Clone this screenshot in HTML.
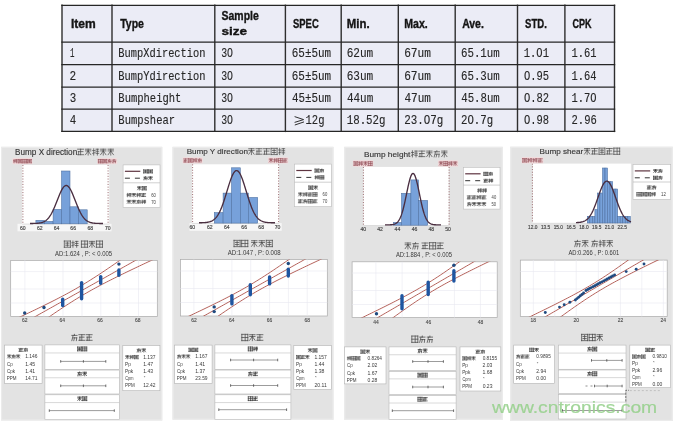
<!DOCTYPE html>
<html><head><meta charset="utf-8"><style>
html,body{margin:0;padding:0;background:#fff;width:676px;height:423px;overflow:hidden;}
svg{display:block;filter:blur(0.45px);}
</style></head><body>
<svg width="676" height="423" viewBox="0 0 676 423">
<rect width="676" height="423" fill="#fff"/>
<rect x="62" y="5.3" width="552.5" height="126.10000000000001" fill="#ebecf6"/>
<line x1="62" y1="4.6" x2="62" y2="132.1" stroke="#2e2e2e" stroke-width="1.4"/>
<line x1="112" y1="4.6" x2="112" y2="132.1" stroke="#2e2e2e" stroke-width="1.4"/>
<line x1="214.8" y1="4.6" x2="214.8" y2="132.1" stroke="#2e2e2e" stroke-width="1.4"/>
<line x1="285.4" y1="4.6" x2="285.4" y2="132.1" stroke="#2e2e2e" stroke-width="1.4"/>
<line x1="341.2" y1="4.6" x2="341.2" y2="132.1" stroke="#2e2e2e" stroke-width="1.4"/>
<line x1="398.3" y1="4.6" x2="398.3" y2="132.1" stroke="#2e2e2e" stroke-width="1.4"/>
<line x1="455.2" y1="4.6" x2="455.2" y2="132.1" stroke="#2e2e2e" stroke-width="1.4"/>
<line x1="517.5" y1="4.6" x2="517.5" y2="132.1" stroke="#2e2e2e" stroke-width="1.4"/>
<line x1="564.9" y1="4.6" x2="564.9" y2="132.1" stroke="#2e2e2e" stroke-width="1.4"/>
<line x1="614.5" y1="4.6" x2="614.5" y2="132.1" stroke="#2e2e2e" stroke-width="1.4"/>
<line x1="61.3" y1="5.3" x2="615.2" y2="5.3" stroke="#262626" stroke-width="1.25"/>
<line x1="61.3" y1="42.1" x2="615.2" y2="42.1" stroke="#262626" stroke-width="1.25"/>
<line x1="61.3" y1="64.5" x2="615.2" y2="64.5" stroke="#262626" stroke-width="1.25"/>
<line x1="61.3" y1="87" x2="615.2" y2="87" stroke="#262626" stroke-width="1.25"/>
<line x1="61.3" y1="109" x2="615.2" y2="109" stroke="#262626" stroke-width="1.25"/>
<line x1="61.3" y1="131.4" x2="615.2" y2="131.4" stroke="#262626" stroke-width="1.25"/>
<text transform="translate(70.92 27.90) scale(0.977 1)" font-size="12.35" font-family="Liberation Sans" font-weight="bold" fill="#141414" stroke="#141414" stroke-width="0.35">Item</text>
<text transform="translate(120.19 27.90) scale(0.872 1)" font-size="12.06" font-family="Liberation Sans" font-weight="bold" fill="#141414" stroke="#141414" stroke-width="0.35">Type</text>
<text transform="translate(293.02 27.70) scale(0.793 1)" font-size="11.92" font-family="Liberation Sans" font-weight="bold" fill="#141414" stroke="#141414" stroke-width="0.35">SPEC</text>
<text transform="translate(346.76 27.70) scale(0.958 1)" font-size="11.92" font-family="Liberation Sans" font-weight="bold" fill="#141414" stroke="#141414" stroke-width="0.35">Min.</text>
<text transform="translate(404.21 27.70) scale(0.887 1)" font-size="11.92" font-family="Liberation Sans" font-weight="bold" fill="#141414" stroke="#141414" stroke-width="0.35">Max.</text>
<text transform="translate(462.14 27.70) scale(0.877 1)" font-size="11.92" font-family="Liberation Sans" font-weight="bold" fill="#141414" stroke="#141414" stroke-width="0.35">Ave.</text>
<text transform="translate(525.11 27.70) scale(0.801 1)" font-size="11.92" font-family="Liberation Sans" font-weight="bold" fill="#141414" stroke="#141414" stroke-width="0.35">STD.</text>
<text transform="translate(572.44 27.70) scale(0.758 1)" font-size="11.92" font-family="Liberation Sans" font-weight="bold" fill="#141414" stroke="#141414" stroke-width="0.35">CPK</text>
<text transform="translate(221.59 19.50) scale(0.867 1)" font-size="12.06" font-family="Liberation Sans" font-weight="bold" fill="#141414" stroke="#141414" stroke-width="0.35">Sample</text>
<text transform="translate(221.43 34.60) scale(1.167 1)" font-size="11.63" font-family="Liberation Sans" font-weight="bold" fill="#141414" stroke="#141414" stroke-width="0.35">size</text>
<text transform="translate(69.88 57.00) scale(0.619 1)" font-size="12.12" font-family="Liberation Mono" font-weight="normal" fill="#262626" stroke="#262626" stroke-width="0.12">1</text>
<text transform="translate(118.37 57.00) scale(0.857 1)" font-size="12.12" font-family="Liberation Mono" font-weight="normal" fill="#262626" stroke="#262626" stroke-width="0.12">BumpXdirection</text>
<text transform="translate(221.16 57.00) scale(0.814 1)" font-size="12.12" font-family="Liberation Mono" font-weight="normal" fill="#262626" stroke="#262626" stroke-width="0.12">3O</text>
<text transform="translate(291.78 57.00) scale(0.902 1)" font-size="12.12" font-family="Liberation Mono" font-weight="normal" fill="#262626" stroke="#262626" stroke-width="0.12">65±5um</text>
<text transform="translate(346.67 57.00) scale(0.914 1)" font-size="12.12" font-family="Liberation Mono" font-weight="normal" fill="#262626" stroke="#262626" stroke-width="0.12">62um</text>
<text transform="translate(404.16 57.00) scale(0.921 1)" font-size="12.12" font-family="Liberation Mono" font-weight="normal" fill="#262626" stroke="#262626" stroke-width="0.12">67um</text>
<text transform="translate(460.99 57.00) scale(0.888 1)" font-size="12.12" font-family="Liberation Mono" font-weight="normal" fill="#262626" stroke="#262626" stroke-width="0.12">65.1um</text>
<text transform="translate(523.77 57.00) scale(0.865 1)" font-size="12.12" font-family="Liberation Mono" font-weight="normal" fill="#262626" stroke="#262626" stroke-width="0.12">1.O1</text>
<text transform="translate(571.57 57.00) scale(0.861 1)" font-size="12.12" font-family="Liberation Mono" font-weight="normal" fill="#262626" stroke="#262626" stroke-width="0.12">1.61</text>
<text transform="translate(69.62 79.90) scale(0.915 1)" font-size="12.12" font-family="Liberation Mono" font-weight="normal" fill="#262626" stroke="#262626" stroke-width="0.12">2</text>
<text transform="translate(118.37 79.90) scale(0.857 1)" font-size="12.12" font-family="Liberation Mono" font-weight="normal" fill="#262626" stroke="#262626" stroke-width="0.12">BumpYdirection</text>
<text transform="translate(221.16 79.90) scale(0.814 1)" font-size="12.12" font-family="Liberation Mono" font-weight="normal" fill="#262626" stroke="#262626" stroke-width="0.12">3O</text>
<text transform="translate(291.78 79.90) scale(0.902 1)" font-size="12.12" font-family="Liberation Mono" font-weight="normal" fill="#262626" stroke="#262626" stroke-width="0.12">65±5um</text>
<text transform="translate(346.67 79.90) scale(0.914 1)" font-size="12.12" font-family="Liberation Mono" font-weight="normal" fill="#262626" stroke="#262626" stroke-width="0.12">63um</text>
<text transform="translate(404.16 79.90) scale(0.921 1)" font-size="12.12" font-family="Liberation Mono" font-weight="normal" fill="#262626" stroke="#262626" stroke-width="0.12">67um</text>
<text transform="translate(460.99 79.90) scale(0.888 1)" font-size="12.12" font-family="Liberation Mono" font-weight="normal" fill="#262626" stroke="#262626" stroke-width="0.12">65.3um</text>
<text transform="translate(523.98 79.90) scale(0.863 1)" font-size="12.12" font-family="Liberation Mono" font-weight="normal" fill="#262626" stroke="#262626" stroke-width="0.12">O.95</text>
<text transform="translate(571.57 79.90) scale(0.861 1)" font-size="12.12" font-family="Liberation Mono" font-weight="normal" fill="#262626" stroke="#262626" stroke-width="0.12">1.64</text>
<text transform="translate(69.69 102.40) scale(0.895 1)" font-size="12.12" font-family="Liberation Mono" font-weight="normal" fill="#262626" stroke="#262626" stroke-width="0.12">3</text>
<text transform="translate(118.36 102.40) scale(0.867 1)" font-size="12.12" font-family="Liberation Mono" font-weight="normal" fill="#262626" stroke="#262626" stroke-width="0.12">Bumpheight</text>
<text transform="translate(221.16 102.40) scale(0.814 1)" font-size="12.12" font-family="Liberation Mono" font-weight="normal" fill="#262626" stroke="#262626" stroke-width="0.12">3O</text>
<text transform="translate(292.06 102.40) scale(0.896 1)" font-size="12.12" font-family="Liberation Mono" font-weight="normal" fill="#262626" stroke="#262626" stroke-width="0.12">45±5um</text>
<text transform="translate(346.95 102.40) scale(0.904 1)" font-size="12.12" font-family="Liberation Mono" font-weight="normal" fill="#262626" stroke="#262626" stroke-width="0.12">44um</text>
<text transform="translate(404.45 102.40) scale(0.911 1)" font-size="12.12" font-family="Liberation Mono" font-weight="normal" fill="#262626" stroke="#262626" stroke-width="0.12">47um</text>
<text transform="translate(461.27 102.40) scale(0.882 1)" font-size="12.12" font-family="Liberation Mono" font-weight="normal" fill="#262626" stroke="#262626" stroke-width="0.12">45.8um</text>
<text transform="translate(523.98 102.40) scale(0.865 1)" font-size="12.12" font-family="Liberation Mono" font-weight="normal" fill="#262626" stroke="#262626" stroke-width="0.12">O.82</text>
<text transform="translate(571.57 102.40) scale(0.861 1)" font-size="12.12" font-family="Liberation Mono" font-weight="normal" fill="#262626" stroke="#262626" stroke-width="0.12">1.7O</text>
<text transform="translate(69.86 124.30) scale(0.891 1)" font-size="12.12" font-family="Liberation Mono" font-weight="normal" fill="#262626" stroke="#262626" stroke-width="0.12">4</text>
<text transform="translate(118.36 124.30) scale(0.868 1)" font-size="12.12" font-family="Liberation Mono" font-weight="normal" fill="#262626" stroke="#262626" stroke-width="0.12">Bumpshear</text>
<text transform="translate(221.16 124.30) scale(0.814 1)" font-size="12.12" font-family="Liberation Mono" font-weight="normal" fill="#262626" stroke="#262626" stroke-width="0.12">3O</text>
<text transform="translate(305.56 124.40) scale(0.868 1)" font-size="12.12" font-family="Liberation Mono" font-weight="normal" fill="#262626" stroke="#262626" stroke-width="0.12">12g</text>
<path d="M294.6 116.6 L303.6 119.6 L294.6 122.4 M294.8 125 L304 121.9" fill="none" stroke="#262626" stroke-width="0.95"/>
<text transform="translate(346.75 124.30) scale(0.888 1)" font-size="12.12" font-family="Liberation Mono" font-weight="normal" fill="#262626" stroke="#262626" stroke-width="0.12">18.52g</text>
<text transform="translate(404.24 124.30) scale(0.896 1)" font-size="12.12" font-family="Liberation Mono" font-weight="normal" fill="#262626" stroke="#262626" stroke-width="0.12">23.O7g</text>
<text transform="translate(461.05 124.30) scale(0.882 1)" font-size="12.12" font-family="Liberation Mono" font-weight="normal" fill="#262626" stroke="#262626" stroke-width="0.12">2O.7g</text>
<text transform="translate(523.98 124.30) scale(0.863 1)" font-size="12.12" font-family="Liberation Mono" font-weight="normal" fill="#262626" stroke="#262626" stroke-width="0.12">O.98</text>
<text transform="translate(571.56 124.30) scale(0.867 1)" font-size="12.12" font-family="Liberation Mono" font-weight="normal" fill="#262626" stroke="#262626" stroke-width="0.12">2.96</text>
<rect x="1" y="146.8" width="161.3" height="273.7" fill="#e3e3e3"/>
<rect x="1.6" y="147.4" width="160.10000000000002" height="272.5" fill="none" stroke="#ececec" stroke-width="1.1"/>
<rect x="172.5" y="146.8" width="161.0" height="273.0" fill="#e3e3e3"/>
<rect x="173.1" y="147.4" width="159.8" height="271.8" fill="none" stroke="#ececec" stroke-width="1.1"/>
<rect x="344.2" y="146.8" width="158.60000000000002" height="273.0" fill="#e3e3e3"/>
<rect x="344.8" y="147.4" width="157.40000000000003" height="271.8" fill="none" stroke="#ececec" stroke-width="1.1"/>
<rect x="510.2" y="146.7" width="162.59999999999997" height="274.3" fill="#e3e3e3"/>
<rect x="510.8" y="147.29999999999998" width="161.39999999999998" height="273.1" fill="none" stroke="#ececec" stroke-width="1.1"/>
<rect x="17.5" y="223.8" width="94.0" height="7.5" fill="#f7f7f7"/>
<rect x="22.2" y="165.0" width="87.0" height="59.400000000000006" fill="#fff"/>
<line x1="22.2" y1="224.10000000000002" x2="109.2" y2="224.10000000000002" stroke="#c8c8c8" stroke-width="0.6"/>
<rect x="35.90" y="220.30" width="8.40" height="3.50" fill="#77a1da" stroke="#4d6f9f" stroke-width="0.55"/>
<rect x="44.30" y="221.40" width="8.80" height="2.40" fill="#77a1da" stroke="#4d6f9f" stroke-width="0.55"/>
<rect x="53.10" y="209.40" width="8.40" height="14.40" fill="#77a1da" stroke="#4d6f9f" stroke-width="0.55"/>
<rect x="61.50" y="171.00" width="8.50" height="52.80" fill="#77a1da" stroke="#4d6f9f" stroke-width="0.55"/>
<rect x="70.00" y="206.80" width="8.30" height="17.00" fill="#77a1da" stroke="#4d6f9f" stroke-width="0.55"/>
<rect x="78.30" y="209.80" width="8.90" height="14.00" fill="#77a1da" stroke="#4d6f9f" stroke-width="0.55"/>
<line x1="22.9" y1="165.0" x2="22.9" y2="223.8" stroke="#9a6a6e" stroke-width="0.95" stroke-dasharray="1.1 1.6"/>
<line x1="108.1" y1="165.0" x2="108.1" y2="223.8" stroke="#9a6a6e" stroke-width="0.95" stroke-dasharray="1.1 1.6"/>
<polyline points="30.00,223.49 30.50,223.49 31.00,223.48 31.50,223.48 32.00,223.47 32.50,223.47 33.00,223.46 33.50,223.45 34.00,223.44 34.50,223.42 35.00,223.41 35.50,223.39 36.00,223.36 36.50,223.34 37.00,223.30 37.50,223.26 38.00,223.22 38.50,223.17 39.00,223.11 39.50,223.03 40.00,222.95 40.50,222.86 41.00,222.75 41.50,222.62 42.00,222.48 42.50,222.31 43.00,222.13 43.50,221.92 44.00,221.69 44.50,221.42 45.00,221.13 45.50,220.80 46.00,220.44 46.50,220.04 47.00,219.60 47.50,219.11 48.00,218.58 48.50,218.01 49.00,217.38 49.50,216.71 50.00,215.98 50.50,215.20 51.00,214.37 51.50,213.49 52.00,212.55 52.50,211.57 53.00,210.54 53.50,209.46 54.00,208.34 54.50,207.18 55.00,205.98 55.50,204.76 56.00,203.51 56.50,202.24 57.00,200.96 57.50,199.68 58.00,198.41 58.50,197.15 59.00,195.91 59.50,194.70 60.00,193.53 60.50,192.41 61.00,191.34 61.50,190.34 62.00,189.42 62.50,188.58 63.00,187.83 63.50,187.17 64.00,186.62 64.50,186.17 65.00,185.84 65.50,185.61 66.00,185.51 66.50,185.52 67.00,185.65 67.50,185.89 68.00,186.25 68.50,186.72 69.00,187.30 69.50,187.97 70.00,188.74 70.50,189.60 71.00,190.54 71.50,191.55 72.00,192.63 72.50,193.76 73.00,194.94 73.50,196.15 74.00,197.40 74.50,198.66 75.00,199.94 75.50,201.22 76.00,202.50 76.50,203.76 77.00,205.00 77.50,206.22 78.00,207.41 78.50,208.57 79.00,209.68 79.50,210.75 80.00,211.77 80.50,212.75 81.00,213.67 81.50,214.54 82.00,215.36 82.50,216.13 83.00,216.85 83.50,217.51 84.00,218.12 84.50,218.69 85.00,219.21 85.50,219.69 86.00,220.12 86.50,220.51 87.00,220.87 87.50,221.19 88.00,221.48 88.50,221.74 89.00,221.96 89.50,222.17 90.00,222.35 90.50,222.51 91.00,222.65 91.50,222.77 92.00,222.88 92.50,222.97 93.00,223.05 93.50,223.12 94.00,223.18 94.50,223.23 95.00,223.27 95.50,223.31 96.00,223.34 96.50,223.37 97.00,223.39 97.50,223.41 98.00,223.43 98.50,223.44 99.00,223.45 99.50,223.46 100.00,223.47 100.50,223.47 101.00,223.48 101.50,223.48 102.00,223.49 102.50,223.49 103.00,223.49" fill="none" stroke="#4a2e40" stroke-width="1.35"/>
<text transform="translate(20.04 229.80) scale(1.000 1)" font-size="5.09" font-family="Liberation Sans" font-weight="normal" fill="#444" stroke="#444" stroke-width="0.15">60</text>
<text transform="translate(36.98 229.80) scale(1.000 1)" font-size="5.09" font-family="Liberation Sans" font-weight="normal" fill="#444" stroke="#444" stroke-width="0.15">62</text>
<text transform="translate(53.73 229.80) scale(1.000 1)" font-size="5.09" font-family="Liberation Sans" font-weight="normal" fill="#444" stroke="#444" stroke-width="0.15">64</text>
<text transform="translate(70.35 229.80) scale(1.000 1)" font-size="5.09" font-family="Liberation Sans" font-weight="normal" fill="#444" stroke="#444" stroke-width="0.15">66</text>
<text transform="translate(87.55 229.80) scale(1.000 1)" font-size="5.09" font-family="Liberation Sans" font-weight="normal" fill="#444" stroke="#444" stroke-width="0.15">68</text>
<text transform="translate(105.04 229.80) scale(1.000 1)" font-size="5.09" font-family="Liberation Sans" font-weight="normal" fill="#444" stroke="#444" stroke-width="0.15">70</text>
<text transform="translate(15.05 154.80) scale(0.986 1)" font-size="8.28" font-family="Liberation Sans" font-weight="normal" fill="#383838" stroke="#383838" stroke-width="0.15">Bump X direction</text>
<path d="M77.63 149.19L83.61 149.19 M78.30 151.60L82.94 151.60 M77.63 154.71L83.61 154.71 M80.62 149.19L80.62 154.71 M78.63 151.60L78.63 154.71 M85.50 149.19L90.82 149.19 M88.16 149.19L88.16 155.06 M85.50 150.91L90.82 150.91 M88.16 150.91L85.50 154.71 M88.16 150.91L90.82 154.71 M93.71 148.84L93.71 155.06 M92.71 150.57L95.04 150.57 M96.03 149.19L98.69 149.19 M96.03 151.26L98.69 151.26 M96.03 153.33L98.69 153.33 M97.36 149.19L97.36 155.06 M92.71 153.33L95.04 152.64 M100.58 149.19L105.90 149.19 M103.24 149.19L103.24 155.06 M100.58 150.91L105.90 150.91 M103.24 150.91L100.58 154.71 M103.24 150.91L105.90 154.71 M108.12 149.19L113.44 149.19 M110.78 149.19L110.78 155.06 M108.12 150.91L113.44 150.91 M110.78 150.91L108.12 154.71 M110.78 150.91L113.44 154.71" stroke="#484848" stroke-width="0.7" fill="none" stroke-linecap="square"/>
<rect x="12.3" y="158.10000000000002" width="20.2" height="6.099999999999989" fill="#f2dcdd" rx="1"/>
<path d="M14.12 159.49L14.12 162.81 M13.51 160.41L14.94 160.41 M15.55 159.67L17.20 159.67 M15.55 160.78L17.20 160.78 M15.55 161.89L17.20 161.89 M16.38 159.67L16.38 162.81 M13.51 161.89L14.94 161.52 M18.20 159.49L21.89 159.49 M18.20 159.49L18.20 162.81 M21.89 159.49L21.89 162.81 M18.20 162.81L21.89 162.81 M19.02 160.59L21.07 160.59 M19.02 161.71L21.07 161.71 M20.05 160.04L20.05 162.26 M22.90 159.49L22.90 162.81 M22.90 159.49L24.34 159.49 M22.90 161.15L24.34 161.15 M22.90 162.81L24.34 162.81 M24.95 159.49L26.59 159.49 M24.95 159.49L24.95 162.81 M26.59 159.49L26.59 162.81 M24.95 161.15L26.59 161.15 M24.95 162.81L26.59 162.81 M27.60 159.49L31.29 159.49 M27.60 159.49L27.60 162.81 M31.29 159.49L31.29 162.81 M27.60 162.81L31.29 162.81 M28.42 160.59L30.47 160.59 M28.42 161.71L30.47 161.71 M29.45 160.04L29.45 162.26" stroke="#94505a" stroke-width="0.65" fill="none" stroke-linecap="square"/>
<rect x="97.2" y="158.10000000000002" width="20.0" height="6.099999999999989" fill="#f2dcdd" rx="1"/>
<path d="M98.40 159.49L98.40 162.81 M98.40 159.49L99.82 159.49 M98.40 161.15L99.82 161.15 M98.40 162.81L99.82 162.81 M100.43 159.49L102.05 159.49 M100.43 159.49L100.43 162.81 M102.05 159.49L102.05 162.81 M100.43 161.15L102.05 161.15 M100.43 162.81L102.05 162.81 M103.05 159.49L106.70 159.49 M103.05 159.49L103.05 162.81 M106.70 159.49L106.70 162.81 M103.05 162.81L106.70 162.81 M103.86 160.59L105.89 160.59 M103.86 161.71L105.89 161.71 M104.88 160.04L104.88 162.26 M107.91 160.04L111.14 160.04 M109.53 159.49L109.53 160.04 M108.72 160.04L107.91 162.81 M108.72 161.34L110.94 161.34 M110.94 161.34L110.74 162.81 M109.53 161.34L109.12 162.81 M112.56 160.04L115.80 160.04 M114.18 159.49L114.18 160.04 M113.37 160.04L112.56 162.81 M113.37 161.34L115.59 161.34 M115.59 161.34L115.39 162.81 M114.18 161.34L113.77 162.81" stroke="#94505a" stroke-width="0.65" fill="none" stroke-linecap="square"/>
<rect x="123.1" y="164.9" width="36.900000000000006" height="42.5" fill="#fff" stroke="#bdbdbd" stroke-width="0.6"/>
<line x1="123.1" y1="182.8" x2="160.0" y2="182.8" stroke="#b0b0b0" stroke-width="0.6"/>
<line x1="124.89999999999999" y1="171.3" x2="140.29999999999998" y2="171.3" stroke="#5e3440" stroke-width="1.2"/>
<line x1="124.89999999999999" y1="178.20000000000002" x2="140.29999999999998" y2="178.20000000000002" stroke="#333" stroke-width="1.0" stroke-dasharray="5 5"/>
<path d="M143.62 169.87L147.49 169.87 M143.62 169.87L143.62 172.93 M147.49 169.87L147.49 172.93 M143.62 172.93L147.49 172.93 M144.47 170.89L146.62 170.89 M144.47 171.91L146.62 171.91 M145.55 170.38L145.55 172.42 M148.52 169.87L152.39 169.87 M148.52 169.87L148.52 172.93 M152.39 169.87L152.39 172.93 M148.52 172.93L152.39 172.93 M149.38 170.89L151.53 170.89 M149.38 171.91L151.53 171.91 M150.45 170.38L150.45 172.42" stroke="#333" stroke-width="0.65" fill="none" stroke-linecap="square"/>
<path d="M143.83 177.18L147.27 177.18 M145.55 176.67L145.55 177.18 M144.69 177.18L143.83 179.73 M144.69 178.37L147.06 178.37 M147.06 178.37L146.84 179.73 M145.55 178.37L145.12 179.73 M148.73 176.84L152.17 176.84 M150.45 176.84L150.45 179.73 M148.73 177.69L152.17 177.69 M150.45 177.69L148.73 179.56 M150.45 177.69L152.17 179.56" stroke="#333" stroke-width="0.65" fill="none" stroke-linecap="square"/>
<path d="M137.63 186.77L141.07 186.77 M139.35 186.77L139.35 189.92 M137.63 187.70L141.07 187.70 M139.35 187.70L137.63 189.73 M139.35 187.70L141.07 189.73 M142.31 186.59L146.19 186.59 M142.31 186.59L142.31 189.92 M146.19 186.59L146.19 189.92 M142.31 189.92L146.19 189.92 M143.17 187.70L145.32 187.70 M143.17 188.81L145.32 188.81 M144.25 187.14L144.25 189.36" stroke="#333" stroke-width="0.65" fill="none" stroke-linecap="square"/>
<path d="M127.67 193.39L127.67 196.72 M127.02 194.31L128.55 194.31 M129.21 193.57L130.96 193.57 M129.21 194.68L130.96 194.68 M129.21 195.79L130.96 195.79 M130.08 193.57L130.08 196.72 M127.02 195.79L128.55 195.42 M132.11 193.57L135.61 193.57 M133.86 193.57L133.86 196.72 M132.11 194.50L135.61 194.50 M133.86 194.50L132.11 196.53 M133.86 194.50L135.61 196.53 M137.42 193.39L137.42 196.72 M136.77 194.31L138.30 194.31 M138.96 193.57L140.71 193.57 M138.96 194.68L140.71 194.68 M138.96 195.79L140.71 195.79 M139.83 193.57L139.83 196.72 M136.77 195.79L138.30 195.42 M141.64 193.57L145.58 193.57 M142.08 194.87L145.14 194.87 M141.64 196.53L145.58 196.53 M143.61 193.57L143.61 196.53 M142.30 194.87L142.30 196.53" stroke="#333" stroke-width="0.6" fill="none" stroke-linecap="square"/>
<text transform="translate(151.19 196.90) scale(0.780 1)" font-size="5.38" font-family="Liberation Sans" font-weight="normal" fill="#444" >60</text>
<path d="M127.24 200.37L130.74 200.37 M128.99 200.37L128.99 203.52 M127.24 201.30L130.74 201.30 M128.99 201.30L127.24 203.33 M128.99 201.30L130.74 203.33 M132.11 200.37L135.61 200.37 M133.86 200.37L133.86 203.52 M132.11 201.30L135.61 201.30 M133.86 201.30L132.11 203.33 M133.86 201.30L135.61 203.33 M136.99 200.74L140.49 200.74 M138.74 200.19L138.74 200.74 M137.86 200.74L136.99 203.52 M137.86 202.04L140.27 202.04 M140.27 202.04L140.05 203.52 M138.74 202.04L138.30 203.52 M142.30 200.19L142.30 203.52 M141.64 201.11L143.17 201.11 M143.83 200.37L145.58 200.37 M143.83 201.48L145.58 201.48 M143.83 202.59L145.58 202.59 M144.71 200.37L144.71 203.52 M141.64 202.59L143.17 202.22" stroke="#333" stroke-width="0.6" fill="none" stroke-linecap="square"/>
<text transform="translate(151.19 203.70) scale(0.780 1)" font-size="5.38" font-family="Liberation Sans" font-weight="normal" fill="#444" >70</text>
<rect x="189.5" y="223.1" width="92.19999999999999" height="7.700000000000017" fill="#f7f7f7"/>
<rect x="192.0" y="164.3" width="87.0" height="59.39999999999998" fill="#fff"/>
<line x1="192.0" y1="223.4" x2="279.0" y2="223.4" stroke="#c8c8c8" stroke-width="0.6"/>
<rect x="214.30" y="212.60" width="8.80" height="10.50" fill="#77a1da" stroke="#4d6f9f" stroke-width="0.55"/>
<rect x="223.10" y="193.10" width="8.40" height="30.00" fill="#77a1da" stroke="#4d6f9f" stroke-width="0.55"/>
<rect x="231.50" y="167.80" width="8.80" height="55.30" fill="#77a1da" stroke="#4d6f9f" stroke-width="0.55"/>
<rect x="240.30" y="193.10" width="8.00" height="30.00" fill="#77a1da" stroke="#4d6f9f" stroke-width="0.55"/>
<rect x="248.30" y="197.40" width="9.40" height="25.70" fill="#77a1da" stroke="#4d6f9f" stroke-width="0.55"/>
<line x1="192.6" y1="164.3" x2="192.6" y2="223.1" stroke="#9a6a6e" stroke-width="0.95" stroke-dasharray="1.1 1.6"/>
<line x1="278.6" y1="164.3" x2="278.6" y2="223.1" stroke="#9a6a6e" stroke-width="0.95" stroke-dasharray="1.1 1.6"/>
<polyline points="199.00,222.78 199.50,222.77 200.00,222.76 200.50,222.76 201.00,222.75 201.50,222.73 202.00,222.72 202.50,222.70 203.00,222.69 203.50,222.66 204.00,222.64 204.50,222.61 205.00,222.57 205.50,222.53 206.00,222.48 206.50,222.42 207.00,222.35 207.50,222.27 208.00,222.18 208.50,222.08 209.00,221.96 209.50,221.83 210.00,221.68 210.50,221.50 211.00,221.31 211.50,221.09 212.00,220.84 212.50,220.57 213.00,220.26 213.50,219.91 214.00,219.53 214.50,219.11 215.00,218.65 215.50,218.14 216.00,217.58 216.50,216.97 217.00,216.31 217.50,215.59 218.00,214.81 218.50,213.97 219.00,213.08 219.50,212.12 220.00,211.09 220.50,210.01 221.00,208.86 221.50,207.65 222.00,206.38 222.50,205.05 223.00,203.66 223.50,202.23 224.00,200.74 224.50,199.21 225.00,197.65 225.50,196.05 226.00,194.43 226.50,192.79 227.00,191.14 227.50,189.49 228.00,187.85 228.50,186.23 229.00,184.64 229.50,183.09 230.00,181.59 230.50,180.14 231.00,178.77 231.50,177.47 232.00,176.26 232.50,175.15 233.00,174.14 233.50,173.25 234.00,172.48 234.50,171.83 235.00,171.32 235.50,170.94 236.00,170.70 236.50,170.60 237.00,170.65 237.50,170.83 238.00,171.15 238.50,171.61 239.00,172.21 239.50,172.93 240.00,173.77 240.50,174.73 241.00,175.80 241.50,176.98 242.00,178.24 242.50,179.58 243.00,181.00 243.50,182.48 244.00,184.02 244.50,185.59 245.00,187.20 245.50,188.83 246.00,190.48 246.50,192.13 247.00,193.77 247.50,195.40 248.00,197.01 248.50,198.59 249.00,200.13 249.50,201.64 250.00,203.09 250.50,204.50 251.00,205.85 251.50,207.15 252.00,208.38 252.50,209.56 253.00,210.67 253.50,211.72 254.00,212.70 254.50,213.62 255.00,214.48 255.50,215.28 256.00,216.03 256.50,216.71 257.00,217.34 257.50,217.92 258.00,218.45 258.50,218.93 259.00,219.37 259.50,219.77 260.00,220.12 260.50,220.45 261.00,220.74 261.50,220.99 262.00,221.22 262.50,221.43 263.00,221.61 263.50,221.77 264.00,221.91 264.50,222.04 265.00,222.14 265.50,222.24 266.00,222.32 266.50,222.39 267.00,222.45 267.50,222.51 268.00,222.55 268.50,222.59 269.00,222.62 269.50,222.65 270.00,222.68 270.50,222.70 271.00,222.71 271.50,222.73 272.00,222.74 272.50,222.75 273.00,222.76 273.50,222.77 274.00,222.77 274.50,222.78 275.00,222.78" fill="none" stroke="#4a2e40" stroke-width="1.35"/>
<text transform="translate(189.54 228.90) scale(1.000 1)" font-size="5.09" font-family="Liberation Sans" font-weight="normal" fill="#444" stroke="#444" stroke-width="0.15">60</text>
<text transform="translate(206.98 228.90) scale(1.000 1)" font-size="5.09" font-family="Liberation Sans" font-weight="normal" fill="#444" stroke="#444" stroke-width="0.15">62</text>
<text transform="translate(224.03 228.90) scale(1.000 1)" font-size="5.09" font-family="Liberation Sans" font-weight="normal" fill="#444" stroke="#444" stroke-width="0.15">64</text>
<text transform="translate(241.35 228.90) scale(1.000 1)" font-size="5.09" font-family="Liberation Sans" font-weight="normal" fill="#444" stroke="#444" stroke-width="0.15">66</text>
<text transform="translate(258.35 228.90) scale(1.000 1)" font-size="5.09" font-family="Liberation Sans" font-weight="normal" fill="#444" stroke="#444" stroke-width="0.15">68</text>
<text transform="translate(274.74 228.90) scale(1.000 1)" font-size="5.09" font-family="Liberation Sans" font-weight="normal" fill="#444" stroke="#444" stroke-width="0.15">70</text>
<text transform="translate(186.65 154.30) scale(1.013 1)" font-size="7.99" font-family="Liberation Sans" font-weight="normal" fill="#383838" stroke="#383838" stroke-width="0.15">Bump Y direction</text>
<path d="M248.77 148.69L254.09 148.69 M251.43 148.69L251.43 154.56 M248.77 150.41L254.09 150.41 M251.43 150.41L248.77 154.21 M251.43 150.41L254.09 154.21 M255.99 148.69L261.99 148.69 M256.66 151.10L261.32 151.10 M255.99 154.21L261.99 154.21 M258.99 148.69L258.99 154.21 M256.99 151.10L256.99 154.21 M263.55 148.69L269.55 148.69 M264.22 151.10L268.88 151.10 M263.55 154.21L269.55 154.21 M266.55 148.69L266.55 154.21 M264.55 151.10L264.55 154.21 M271.11 148.34L277.11 148.34 M271.11 148.34L271.11 154.56 M277.11 148.34L277.11 154.56 M271.11 154.56L277.11 154.56 M272.44 150.41L275.77 150.41 M272.44 152.49L275.77 152.49 M274.11 149.38L274.11 153.52 M279.67 148.34L279.67 154.56 M278.67 150.07L281.00 150.07 M282.00 148.69L284.67 148.69 M282.00 150.76L284.67 150.76 M282.00 152.83L284.67 152.83 M283.33 148.69L283.33 154.56 M278.67 152.83L281.00 152.14" stroke="#484848" stroke-width="0.7" fill="none" stroke-linecap="square"/>
<rect x="182.5" y="157.3" width="20.30000000000001" height="6.300000000000006" fill="#f2dcdd" rx="1"/>
<path d="M183.71 158.89L187.42 158.89 M184.12 160.25L187.01 160.25 M183.71 162.01L187.42 162.01 M185.56 158.89L185.56 162.01 M184.32 160.25L184.32 162.01 M188.43 158.69L192.14 158.69 M188.43 158.69L188.43 162.21 M192.14 158.69L192.14 162.21 M188.43 162.21L192.14 162.21 M189.26 159.87L191.32 159.87 M189.26 161.03L191.32 161.03 M190.29 159.28L190.29 161.62 M193.78 158.69L193.78 162.21 M193.16 159.67L194.60 159.67 M195.22 158.89L196.87 158.89 M195.22 160.06L196.87 160.06 M195.22 161.23L196.87 161.23 M196.04 158.89L196.04 162.21 M193.16 161.23L194.60 160.84 M198.09 159.28L201.39 159.28 M199.74 158.69L199.74 159.28 M198.91 159.28L198.09 162.21 M198.91 160.65L201.18 160.65 M201.18 160.65L200.98 162.21 M199.74 160.65L199.33 162.21" stroke="#94505a" stroke-width="0.65" fill="none" stroke-linecap="square"/>
<rect x="267.9" y="157.3" width="20.30000000000001" height="6.300000000000006" fill="#f2dcdd" rx="1"/>
<path d="M269.31 158.89L272.61 158.89 M270.96 158.89L270.96 162.21 M269.31 159.87L272.61 159.87 M270.96 159.87L269.31 162.01 M270.96 159.87L272.61 162.01 M274.45 158.69L274.45 162.21 M273.83 159.67L275.27 159.67 M275.89 158.89L277.54 158.89 M275.89 160.06L277.54 160.06 M275.89 161.23L277.54 161.23 M276.72 158.89L276.72 162.21 M273.83 161.23L275.27 160.84 M278.56 158.69L278.56 162.21 M278.56 158.69L280.00 158.69 M278.56 160.45L280.00 160.45 M278.56 162.21L280.00 162.21 M280.62 158.69L282.27 158.69 M280.62 158.69L280.62 162.21 M282.27 158.69L282.27 162.21 M280.62 160.45L282.27 160.45 M280.62 162.21L282.27 162.21 M283.28 158.89L286.99 158.89 M283.69 160.25L286.58 160.25 M283.28 162.01L286.99 162.01 M285.14 158.89L285.14 162.01 M283.90 160.25L283.90 162.01" stroke="#94505a" stroke-width="0.65" fill="none" stroke-linecap="square"/>
<rect x="294.5" y="164.1" width="36.80000000000001" height="42.599999999999994" fill="#fff" stroke="#bdbdbd" stroke-width="0.6"/>
<line x1="294.5" y1="182.2" x2="331.3" y2="182.2" stroke="#b0b0b0" stroke-width="0.6"/>
<line x1="296.3" y1="170.5" x2="311.7" y2="170.5" stroke="#5e3440" stroke-width="1.2"/>
<line x1="296.3" y1="177.4" x2="311.7" y2="177.4" stroke="#333" stroke-width="1.0" stroke-dasharray="5 5"/>
<path d="M315.01 169.07L318.88 169.07 M315.01 169.07L315.01 172.13 M318.88 169.07L318.88 172.13 M315.01 172.13L318.88 172.13 M315.88 170.09L318.03 170.09 M315.88 171.11L318.03 171.11 M316.95 169.58L316.95 171.62 M320.13 169.58L323.57 169.58 M321.85 169.07L321.85 169.58 M320.99 169.58L320.13 172.13 M320.99 170.77L323.35 170.77 M323.35 170.77L323.14 172.13 M321.85 170.77L321.42 172.13" stroke="#333" stroke-width="0.65" fill="none" stroke-linecap="square"/>
<path d="M315.66 175.87L315.66 178.93 M315.01 176.72L316.52 176.72 M317.17 176.04L318.88 176.04 M317.17 177.06L318.88 177.06 M317.17 178.08L318.88 178.08 M318.03 176.04L318.03 178.93 M315.01 178.08L316.52 177.74 M319.91 175.87L319.91 178.93 M319.91 175.87L321.42 175.87 M319.91 177.40L321.42 177.40 M319.91 178.93L321.42 178.93 M322.06 175.87L323.78 175.87 M322.06 175.87L322.06 178.93 M323.78 175.87L323.78 178.93 M322.06 177.40L323.78 177.40 M322.06 178.93L323.78 178.93" stroke="#333" stroke-width="0.65" fill="none" stroke-linecap="square"/>
<path d="M308.81 185.98L312.69 185.98 M308.81 185.98L308.81 189.31 M312.69 185.98L312.69 189.31 M308.81 189.31L312.69 189.31 M309.68 187.09L311.83 187.09 M309.68 188.20L311.83 188.20 M310.75 186.54L310.75 188.76 M313.93 186.17L317.37 186.17 M315.65 186.17L315.65 189.31 M313.93 187.09L317.37 187.09 M315.65 187.09L313.93 189.13 M315.65 187.09L317.37 189.13" stroke="#333" stroke-width="0.65" fill="none" stroke-linecap="square"/>
<path d="M298.64 192.97L302.14 192.97 M300.39 192.97L300.39 196.11 M298.64 193.89L302.14 193.89 M300.39 193.89L298.64 195.93 M300.39 193.89L302.14 195.93 M303.95 192.78L303.95 196.11 M303.29 193.71L304.82 193.71 M305.48 192.97L307.23 192.97 M305.48 194.08L307.23 194.08 M305.48 195.19L307.23 195.19 M306.36 192.97L306.36 196.11 M303.29 195.19L304.82 194.82 M308.17 192.97L312.11 192.97 M308.61 194.26L311.67 194.26 M308.17 195.93L312.11 195.93 M310.14 192.97L310.14 195.93 M308.82 194.26L308.82 195.93 M313.04 192.78L313.04 196.11 M313.04 192.78L314.57 192.78 M313.04 194.45L314.57 194.45 M313.04 196.11L314.57 196.11 M315.23 192.78L316.98 192.78 M315.23 192.78L315.23 196.11 M316.98 192.78L316.98 196.11 M315.23 194.45L316.98 194.45 M315.23 196.11L316.98 196.11" stroke="#333" stroke-width="0.6" fill="none" stroke-linecap="square"/>
<text transform="translate(322.59 196.30) scale(0.780 1)" font-size="5.38" font-family="Liberation Sans" font-weight="normal" fill="#444" >60</text>
<path d="M298.42 199.77L302.36 199.77 M298.86 201.06L301.92 201.06 M298.42 202.73L302.36 202.73 M300.39 199.77L300.39 202.73 M299.07 201.06L299.07 202.73 M303.51 200.14L307.01 200.14 M305.26 199.59L305.26 200.14 M304.39 200.14L303.51 202.91 M304.39 201.44L306.79 201.44 M306.79 201.44L306.57 202.91 M305.26 201.44L304.82 202.91 M308.17 199.59L308.17 202.91 M308.17 199.59L309.70 199.59 M308.17 201.25L309.70 201.25 M308.17 202.91L309.70 202.91 M310.36 199.59L312.11 199.59 M310.36 199.59L310.36 202.91 M312.11 199.59L312.11 202.91 M310.36 201.25L312.11 201.25 M310.36 202.91L312.11 202.91 M313.04 199.77L316.98 199.77 M313.48 201.06L316.54 201.06 M313.04 202.73L316.98 202.73 M315.01 199.77L315.01 202.73 M313.70 201.06L313.70 202.73" stroke="#333" stroke-width="0.6" fill="none" stroke-linecap="square"/>
<text transform="translate(322.59 203.10) scale(0.780 1)" font-size="5.38" font-family="Liberation Sans" font-weight="normal" fill="#444" >70</text>
<rect x="363.4" y="166.9" width="85.40000000000003" height="58.89999999999998" fill="#fff"/>
<line x1="363.4" y1="225.5" x2="448.8" y2="225.5" stroke="#c8c8c8" stroke-width="0.6"/>
<rect x="393.70" y="222.40" width="7.80" height="2.80" fill="#77a1da" stroke="#4d6f9f" stroke-width="0.55"/>
<rect x="401.50" y="193.30" width="9.40" height="31.90" fill="#77a1da" stroke="#4d6f9f" stroke-width="0.55"/>
<rect x="410.90" y="179.90" width="7.60" height="45.30" fill="#77a1da" stroke="#4d6f9f" stroke-width="0.55"/>
<rect x="418.50" y="200.40" width="9.20" height="24.80" fill="#77a1da" stroke="#4d6f9f" stroke-width="0.55"/>
<line x1="363.4" y1="166.9" x2="363.4" y2="225.2" stroke="#9a6a6e" stroke-width="0.95" stroke-dasharray="1.1 1.6"/>
<line x1="449.1" y1="166.9" x2="449.1" y2="225.2" stroke="#9a6a6e" stroke-width="0.95" stroke-dasharray="1.1 1.6"/>
<polyline points="385.00,224.90 385.50,224.89 386.00,224.89 386.50,224.89 387.00,224.89 387.50,224.88 388.00,224.87 388.50,224.87 389.00,224.85 389.50,224.84 390.00,224.82 390.50,224.79 391.00,224.76 391.50,224.72 392.00,224.66 392.50,224.60 393.00,224.51 393.50,224.40 394.00,224.27 394.50,224.11 395.00,223.91 395.50,223.67 396.00,223.39 396.50,223.04 397.00,222.64 397.50,222.16 398.00,221.60 398.50,220.94 399.00,220.19 399.50,219.33 400.00,218.36 400.50,217.25 401.00,216.02 401.50,214.65 402.00,213.14 402.50,211.49 403.00,209.71 403.50,207.79 404.00,205.74 404.50,203.58 405.00,201.32 405.50,198.98 406.00,196.58 406.50,194.15 407.00,191.71 407.50,189.30 408.00,186.94 408.50,184.68 409.00,182.54 409.50,180.55 410.00,178.76 410.50,177.18 411.00,175.85 411.50,174.80 412.00,174.02 412.50,173.56 413.00,173.40 413.50,173.56 414.00,174.02 414.50,174.80 415.00,175.85 415.50,177.18 416.00,178.76 416.50,180.55 417.00,182.54 417.50,184.68 418.00,186.94 418.50,189.30 419.00,191.71 419.50,194.15 420.00,196.58 420.50,198.98 421.00,201.32 421.50,203.58 422.00,205.74 422.50,207.79 423.00,209.71 423.50,211.49 424.00,213.14 424.50,214.65 425.00,216.02 425.50,217.25 426.00,218.36 426.50,219.33 427.00,220.19 427.50,220.94 428.00,221.60 428.50,222.16 429.00,222.64 429.50,223.04 430.00,223.39 430.50,223.67 431.00,223.91 431.50,224.11 432.00,224.27 432.50,224.40 433.00,224.51 433.50,224.60 434.00,224.66 434.50,224.72 435.00,224.76 435.50,224.79 436.00,224.82 436.50,224.84 437.00,224.85 437.50,224.87 438.00,224.87 438.50,224.88 439.00,224.89 439.50,224.89 440.00,224.89 440.50,224.89 441.00,224.90" fill="none" stroke="#4a2e40" stroke-width="1.35"/>
<text transform="translate(360.41 230.90) scale(1.000 1)" font-size="5.09" font-family="Liberation Sans" font-weight="normal" fill="#444" stroke="#444" stroke-width="0.15">40</text>
<text transform="translate(377.25 230.90) scale(1.000 1)" font-size="5.09" font-family="Liberation Sans" font-weight="normal" fill="#444" stroke="#444" stroke-width="0.15">42</text>
<text transform="translate(394.60 230.90) scale(1.000 1)" font-size="5.09" font-family="Liberation Sans" font-weight="normal" fill="#444" stroke="#444" stroke-width="0.15">44</text>
<text transform="translate(411.63 230.90) scale(1.000 1)" font-size="5.09" font-family="Liberation Sans" font-weight="normal" fill="#444" stroke="#444" stroke-width="0.15">46</text>
<text transform="translate(428.43 230.90) scale(1.000 1)" font-size="5.09" font-family="Liberation Sans" font-weight="normal" fill="#444" stroke="#444" stroke-width="0.15">48</text>
<text transform="translate(445.26 230.90) scale(1.000 1)" font-size="5.09" font-family="Liberation Sans" font-weight="normal" fill="#444" stroke="#444" stroke-width="0.15">50</text>
<text transform="translate(363.94 156.70) scale(1.039 1)" font-size="7.99" font-family="Liberation Sans" font-weight="normal" fill="#383838" stroke="#383838" stroke-width="0.15">Bump height</text>
<path d="M412.42 150.74L412.42 156.95 M411.43 152.47L413.73 152.47 M414.72 151.09L417.35 151.09 M414.72 153.16L417.35 153.16 M414.72 155.23L417.35 155.23 M416.04 151.09L416.04 156.95 M411.43 155.23L413.73 154.54 M418.91 151.09L424.83 151.09 M419.57 153.50L424.17 153.50 M418.91 156.61L424.83 156.61 M421.87 151.09L421.87 156.61 M419.90 153.50L419.90 156.61 M426.72 151.09L431.98 151.09 M429.35 151.09L429.35 156.95 M426.72 152.81L431.98 152.81 M429.35 152.81L426.72 156.61 M429.35 152.81L431.98 156.61 M434.20 151.78L439.46 151.78 M436.83 150.74L436.83 151.78 M435.51 151.78L434.20 156.95 M435.51 154.19L439.13 154.19 M439.13 154.19L438.80 156.95 M436.83 154.19L436.17 156.95 M441.68 151.09L446.94 151.09 M444.31 151.09L444.31 156.95 M441.68 152.81L446.94 152.81 M444.31 152.81L441.68 156.61 M444.31 152.81L446.94 156.61" stroke="#484848" stroke-width="0.7" fill="none" stroke-linecap="square"/>
<rect x="352.8" y="160.3" width="20.5" height="6.499999999999995" fill="#f2dcdd" rx="1"/>
<path d="M354.01 161.71L357.77 161.71 M354.01 161.71L354.01 165.39 M357.77 161.71L357.77 165.39 M354.01 165.39L357.77 165.39 M354.84 162.94L356.93 162.94 M354.84 164.16L356.93 164.16 M355.89 162.32L355.89 164.78 M359.41 161.71L359.41 165.39 M358.78 162.73L360.25 162.73 M360.87 161.91L362.54 161.91 M360.87 163.14L362.54 163.14 M360.87 164.37L362.54 164.37 M361.71 161.91L361.71 165.39 M358.78 164.37L360.25 163.96 M363.77 161.91L367.11 161.91 M365.44 161.91L365.44 165.39 M363.77 162.94L367.11 162.94 M365.44 162.94L363.77 165.19 M365.44 162.94L367.11 165.19 M368.33 161.71L368.33 165.39 M368.33 161.71L369.80 161.71 M368.33 163.55L369.80 163.55 M368.33 165.39L369.80 165.39 M370.42 161.71L372.09 161.71 M370.42 161.71L370.42 165.39 M372.09 161.71L372.09 165.39 M370.42 163.55L372.09 163.55 M370.42 165.39L372.09 165.39" stroke="#94505a" stroke-width="0.65" fill="none" stroke-linecap="square"/>
<rect x="437.9" y="160.3" width="20.30000000000001" height="6.499999999999995" fill="#f2dcdd" rx="1"/>
<path d="M439.31 161.91L442.61 161.91 M440.96 161.91L440.96 165.39 M439.31 162.94L442.61 162.94 M440.96 162.94L439.31 165.19 M440.96 162.94L442.61 165.19 M443.83 161.71L443.83 165.39 M443.83 161.71L445.27 161.71 M443.83 163.55L445.27 163.55 M443.83 165.39L445.27 165.39 M445.89 161.71L447.54 161.71 M445.89 161.71L445.89 165.39 M447.54 161.71L447.54 165.39 M445.89 163.55L447.54 163.55 M445.89 165.39L447.54 165.39 M449.17 161.71L449.17 165.39 M448.56 162.73L450.00 162.73 M450.62 161.91L452.27 161.91 M450.62 163.14L452.27 163.14 M450.62 164.37L452.27 164.37 M451.44 161.91L451.44 165.39 M448.56 164.37L450.00 163.96 M453.49 161.91L456.79 161.91 M455.14 161.91L455.14 165.39 M453.49 162.94L456.79 162.94 M455.14 162.94L453.49 165.19 M455.14 162.94L456.79 165.19" stroke="#94505a" stroke-width="0.65" fill="none" stroke-linecap="square"/>
<rect x="463.4" y="167.4" width="36.60000000000002" height="41.69999999999999" fill="#fff" stroke="#bdbdbd" stroke-width="0.6"/>
<line x1="463.4" y1="185.1" x2="500.0" y2="185.1" stroke="#b0b0b0" stroke-width="0.6"/>
<line x1="465.2" y1="173.8" x2="480.59999999999997" y2="173.8" stroke="#5e3440" stroke-width="1.2"/>
<line x1="465.2" y1="180.70000000000002" x2="480.59999999999997" y2="180.70000000000002" stroke="#333" stroke-width="1.0" stroke-dasharray="5 5"/>
<path d="M483.91 172.37L483.91 175.43 M483.91 172.37L485.42 172.37 M483.91 173.90L485.42 173.90 M483.91 175.43L485.42 175.43 M486.06 172.37L487.78 172.37 M486.06 172.37L486.06 175.43 M487.78 172.37L487.78 175.43 M486.06 173.90L487.78 173.90 M486.06 175.43L487.78 175.43 M489.03 172.88L492.47 172.88 M490.75 172.37L490.75 172.88 M489.89 172.88L489.03 175.43 M489.89 174.07L492.25 174.07 M492.25 174.07L492.04 175.43 M490.75 174.07L490.32 175.43" stroke="#333" stroke-width="0.65" fill="none" stroke-linecap="square"/>
<path d="M483.91 179.34L487.78 179.34 M484.34 180.53L487.35 180.53 M483.91 182.06L487.78 182.06 M485.85 179.34L485.85 182.06 M484.56 180.53L484.56 182.06 M489.46 179.17L489.46 182.23 M488.81 180.02L490.32 180.02 M490.96 179.34L492.68 179.34 M490.96 180.36L492.68 180.36 M490.96 181.38L492.68 181.38 M491.82 179.34L491.82 182.23 M488.81 181.38L490.32 181.04" stroke="#333" stroke-width="0.65" fill="none" stroke-linecap="square"/>
<path d="M478.36 188.88L478.36 192.22 M477.71 189.81L479.22 189.81 M479.87 189.07L481.58 189.07 M479.87 190.18L481.58 190.18 M479.87 191.29L481.58 191.29 M480.73 189.07L480.73 192.22 M477.71 191.29L479.22 190.92 M483.26 188.88L483.26 192.22 M482.61 189.81L484.12 189.81 M484.76 189.07L486.48 189.07 M484.76 190.18L486.48 190.18 M484.76 191.29L486.48 191.29 M485.62 189.07L485.62 192.22 M482.61 191.29L484.12 190.92" stroke="#333" stroke-width="0.65" fill="none" stroke-linecap="square"/>
<path d="M467.32 195.87L471.26 195.87 M467.76 197.16L470.82 197.16 M467.32 198.83L471.26 198.83 M469.29 195.87L469.29 198.83 M467.97 197.16L467.97 198.83 M472.19 195.87L476.13 195.87 M472.63 197.16L475.69 197.16 M472.19 198.83L476.13 198.83 M474.16 195.87L474.16 198.83 M472.85 197.16L472.85 198.83 M477.72 195.69L477.72 199.01 M477.07 196.61L478.60 196.61 M479.26 195.87L481.01 195.87 M479.26 196.98L481.01 196.98 M479.26 198.09L481.01 198.09 M480.13 195.87L480.13 199.01 M477.07 198.09L478.60 197.72 M481.94 195.87L485.88 195.87 M482.38 197.16L485.44 197.16 M481.94 198.83L485.88 198.83 M483.91 195.87L483.91 198.83 M482.60 197.16L482.60 198.83" stroke="#333" stroke-width="0.6" fill="none" stroke-linecap="square"/>
<text transform="translate(491.62 199.20) scale(0.758 1)" font-size="5.38" font-family="Liberation Sans" font-weight="normal" fill="#444" >40</text>
<path d="M467.54 203.04L471.04 203.04 M469.29 202.49L469.29 203.04 M468.41 203.04L467.54 205.81 M468.41 204.34L470.82 204.34 M470.82 204.34L470.60 205.81 M469.29 204.34L468.85 205.81 M472.41 202.67L475.91 202.67 M474.16 202.67L474.16 205.81 M472.41 203.59L475.91 203.59 M474.16 203.59L472.41 205.63 M474.16 203.59L475.91 205.63 M477.29 202.67L480.79 202.67 M479.04 202.67L479.04 205.81 M477.29 203.59L480.79 203.59 M479.04 203.59L477.29 205.63 M479.04 203.59L480.79 205.63 M482.16 202.67L485.66 202.67 M483.91 202.67L483.91 205.81 M482.16 203.59L485.66 203.59 M483.91 203.59L482.16 205.63 M483.91 203.59L485.66 205.63" stroke="#333" stroke-width="0.6" fill="none" stroke-linecap="square"/>
<text transform="translate(491.53 206.00) scale(0.773 1)" font-size="5.38" font-family="Liberation Sans" font-weight="normal" fill="#444" >50</text>
<rect x="532.6" y="163.6" width="98.29999999999995" height="60.0" fill="#fff"/>
<line x1="532.6" y1="223.3" x2="630.9" y2="223.3" stroke="#c8c8c8" stroke-width="0.6"/>
<rect x="587.30" y="216.30" width="2.53" height="6.70" fill="#77a1da" stroke="#4d6f9f" stroke-width="0.55"/>
<rect x="589.83" y="216.30" width="2.53" height="6.70" fill="#77a1da" stroke="#4d6f9f" stroke-width="0.55"/>
<rect x="592.36" y="216.30" width="2.53" height="6.70" fill="#77a1da" stroke="#4d6f9f" stroke-width="0.55"/>
<rect x="594.89" y="209.60" width="2.53" height="13.40" fill="#77a1da" stroke="#4d6f9f" stroke-width="0.55"/>
<rect x="597.42" y="193.00" width="2.53" height="30.00" fill="#77a1da" stroke="#4d6f9f" stroke-width="0.55"/>
<rect x="599.95" y="193.00" width="2.53" height="30.00" fill="#77a1da" stroke="#4d6f9f" stroke-width="0.55"/>
<rect x="602.48" y="168.00" width="2.53" height="55.00" fill="#77a1da" stroke="#4d6f9f" stroke-width="0.55"/>
<rect x="605.01" y="168.00" width="2.53" height="55.00" fill="#77a1da" stroke="#4d6f9f" stroke-width="0.55"/>
<rect x="607.54" y="181.70" width="2.53" height="41.30" fill="#77a1da" stroke="#4d6f9f" stroke-width="0.55"/>
<rect x="610.07" y="181.70" width="2.53" height="41.30" fill="#77a1da" stroke="#4d6f9f" stroke-width="0.55"/>
<rect x="612.60" y="189.00" width="2.53" height="34.00" fill="#77a1da" stroke="#4d6f9f" stroke-width="0.55"/>
<rect x="615.13" y="189.00" width="2.53" height="34.00" fill="#77a1da" stroke="#4d6f9f" stroke-width="0.55"/>
<rect x="617.66" y="216.30" width="2.53" height="6.70" fill="#77a1da" stroke="#4d6f9f" stroke-width="0.55"/>
<rect x="620.19" y="216.30" width="2.53" height="6.70" fill="#77a1da" stroke="#4d6f9f" stroke-width="0.55"/>
<rect x="622.72" y="216.30" width="2.53" height="6.70" fill="#77a1da" stroke="#4d6f9f" stroke-width="0.55"/>
<rect x="625.25" y="216.30" width="2.53" height="6.70" fill="#77a1da" stroke="#4d6f9f" stroke-width="0.55"/>
<rect x="627.78" y="216.30" width="2.53" height="6.70" fill="#77a1da" stroke="#4d6f9f" stroke-width="0.55"/>
<line x1="532.4" y1="163.6" x2="532.4" y2="223.0" stroke="#9a6a6e" stroke-width="0.95" stroke-dasharray="1.1 1.6"/>
<polyline points="576.00,222.61 576.50,222.59 577.00,222.57 577.50,222.54 578.00,222.50 578.50,222.46 579.00,222.42 579.50,222.36 580.00,222.30 580.50,222.22 581.00,222.13 581.50,222.03 582.00,221.92 582.50,221.78 583.00,221.63 583.50,221.45 584.00,221.25 584.50,221.02 585.00,220.77 585.50,220.48 586.00,220.15 586.50,219.79 587.00,219.39 587.50,218.95 588.00,218.45 588.50,217.91 589.00,217.32 589.50,216.68 590.00,215.98 590.50,215.22 591.00,214.40 591.50,213.52 592.00,212.59 592.50,211.59 593.00,210.54 593.50,209.42 594.00,208.26 594.50,207.04 595.00,205.77 595.50,204.46 596.00,203.11 596.50,201.73 597.00,200.32 597.50,198.90 598.00,197.47 598.50,196.04 599.00,194.61 599.50,193.21 600.00,191.84 600.50,190.50 601.00,189.22 601.50,188.00 602.00,186.85 602.50,185.78 603.00,184.80 603.50,183.92 604.00,183.15 604.50,182.50 605.00,181.96 605.50,181.55 606.00,181.27 606.50,181.12 607.00,181.11 607.50,181.23 608.00,181.48 608.50,181.87 609.00,182.38 609.50,183.01 610.00,183.76 610.50,184.62 611.00,185.58 611.50,186.63 612.00,187.76 612.50,188.97 613.00,190.24 613.50,191.57 614.00,192.93 614.50,194.33 615.00,195.75 615.50,197.18 616.00,198.61 616.50,200.04 617.00,201.45 617.50,202.84 618.00,204.19 618.50,205.51 619.00,206.79 619.50,208.02 620.00,209.19 620.50,210.32 621.00,211.38 621.50,212.39 622.00,213.34 622.50,214.23 623.00,215.06 623.50,215.83 624.00,216.54 624.50,217.20 625.00,217.80 625.50,218.35 626.00,218.85 626.50,219.30 627.00,219.72 627.50,220.08 628.00,220.42 628.50,220.71 629.00,220.97 629.50,221.21 630.00,221.41 630.50,221.59 631.00,221.75" fill="none" stroke="#4a2e40" stroke-width="1.35"/>
<text transform="translate(528.12 229.20) scale(0.920 1)" font-size="5.23" font-family="Liberation Sans" font-weight="normal" fill="#444" stroke="#444" stroke-width="0.15">12.0</text>
<text transform="translate(540.90 229.20) scale(0.920 1)" font-size="5.23" font-family="Liberation Sans" font-weight="normal" fill="#444" stroke="#444" stroke-width="0.15">13.5</text>
<text transform="translate(553.66 229.20) scale(0.920 1)" font-size="5.23" font-family="Liberation Sans" font-weight="normal" fill="#444" stroke="#444" stroke-width="0.15">15.0</text>
<text transform="translate(566.44 229.20) scale(0.920 1)" font-size="5.23" font-family="Liberation Sans" font-weight="normal" fill="#444" stroke="#444" stroke-width="0.15">16.5</text>
<text transform="translate(579.20 229.20) scale(0.920 1)" font-size="5.23" font-family="Liberation Sans" font-weight="normal" fill="#444" stroke="#444" stroke-width="0.15">18.0</text>
<text transform="translate(591.98 229.20) scale(0.920 1)" font-size="5.23" font-family="Liberation Sans" font-weight="normal" fill="#444" stroke="#444" stroke-width="0.15">19.5</text>
<text transform="translate(604.80 229.20) scale(0.920 1)" font-size="5.23" font-family="Liberation Sans" font-weight="normal" fill="#444" stroke="#444" stroke-width="0.15">21.0</text>
<text transform="translate(617.58 229.20) scale(0.920 1)" font-size="5.23" font-family="Liberation Sans" font-weight="normal" fill="#444" stroke="#444" stroke-width="0.15">22.5</text>
<text transform="translate(539.55 154.10) scale(1.018 1)" font-size="7.99" font-family="Liberation Sans" font-weight="normal" fill="#383838" stroke="#383838" stroke-width="0.15">Bump shear</text>
<path d="M584.55 148.49L589.75 148.49 M587.15 148.49L587.15 154.35 M584.55 150.21L589.75 150.21 M587.15 150.21L584.55 154.01 M587.15 150.21L589.75 154.01 M591.62 148.49L597.47 148.49 M592.27 150.90L596.82 150.90 M591.62 154.01L597.47 154.01 M594.55 148.49L594.55 154.01 M592.60 150.90L592.60 154.01 M599.02 148.14L604.87 148.14 M599.02 148.14L599.02 154.35 M604.87 148.14L604.87 154.35 M599.02 154.35L604.87 154.35 M600.32 150.21L603.57 150.21 M600.32 152.28L603.57 152.28 M601.95 149.18L601.95 153.32 M606.43 148.49L612.27 148.49 M607.08 150.90L611.62 150.90 M606.43 154.01L612.27 154.01 M609.35 148.49L609.35 154.01 M607.40 150.90L607.40 154.01 M613.83 148.14L613.83 154.35 M613.83 148.14L616.10 148.14 M613.83 151.25L616.10 151.25 M613.83 154.35L616.10 154.35 M617.08 148.14L619.67 148.14 M617.08 148.14L617.08 154.35 M619.67 148.14L619.67 154.35 M617.08 151.25L619.67 151.25 M617.08 154.35L619.67 154.35" stroke="#484848" stroke-width="0.7" fill="none" stroke-linecap="square"/>
<rect x="521.5" y="157.10000000000002" width="22.0" height="6.4" fill="#f2dcdd" rx="1"/>
<path d="M522.73 158.50L526.82 158.50 M522.73 158.50L522.73 162.10 M526.82 158.50L526.82 162.10 M522.73 162.10L526.82 162.10 M523.64 159.70L525.91 159.70 M523.64 160.90L525.91 160.90 M524.77 159.10L524.77 161.50 M528.56 158.50L528.56 162.10 M527.88 159.50L529.47 159.50 M530.15 158.70L531.97 158.70 M530.15 159.90L531.97 159.90 M530.15 161.10L531.97 161.10 M531.06 158.70L531.06 162.10 M527.88 161.10L529.47 160.70 M533.71 158.50L533.71 162.10 M533.03 159.50L534.62 159.50 M535.30 158.70L537.12 158.70 M535.30 159.90L537.12 159.90 M535.30 161.10L537.12 161.10 M536.21 158.70L536.21 162.10 M533.03 161.10L534.62 160.70 M538.18 158.70L542.27 158.70 M538.63 160.10L541.82 160.10 M538.18 161.90L542.27 161.90 M540.23 158.70L540.23 161.90 M538.86 160.10L538.86 161.90" stroke="#94505a" stroke-width="0.65" fill="none" stroke-linecap="square"/>
<rect x="633.0" y="164.5" width="37.700000000000045" height="34.900000000000006" fill="#fff" stroke="#bdbdbd" stroke-width="0.6"/>
<line x1="633.0" y1="182.0" x2="670.7" y2="182.0" stroke="#b0b0b0" stroke-width="0.6"/>
<line x1="634.8" y1="170.9" x2="650.2" y2="170.9" stroke="#5e3440" stroke-width="1.2"/>
<line x1="634.8" y1="177.8" x2="650.2" y2="177.8" stroke="#333" stroke-width="1.0" stroke-dasharray="5 5"/>
<path d="M653.73 169.64L657.17 169.64 M655.45 169.64L655.45 172.53 M653.73 170.49L657.17 170.49 M655.45 170.49L653.73 172.36 M655.45 170.49L657.17 172.36 M658.63 169.98L662.07 169.98 M660.35 169.47L660.35 169.98 M659.49 169.98L658.63 172.53 M659.49 171.17L661.85 171.17 M661.85 171.17L661.64 172.53 M660.35 171.17L659.92 172.53" stroke="#333" stroke-width="0.65" fill="none" stroke-linecap="square"/>
<path d="M653.51 176.27L657.38 176.27 M653.51 176.27L653.51 179.33 M657.38 176.27L657.38 179.33 M653.51 179.33L657.38 179.33 M654.38 177.29L656.52 177.29 M654.38 178.31L656.52 178.31 M655.45 176.78L655.45 178.82 M658.63 176.78L662.07 176.78 M660.35 176.27L660.35 176.78 M659.49 176.78L658.63 179.33 M659.49 177.97L661.85 177.97 M661.85 177.97L661.64 179.33 M660.35 177.97L659.92 179.33" stroke="#333" stroke-width="0.65" fill="none" stroke-linecap="square"/>
<path d="M647.32 185.97L651.18 185.97 M647.75 187.27L650.75 187.27 M647.32 188.93L651.18 188.93 M649.25 185.97L649.25 188.93 M647.96 187.27L647.96 188.93 M652.43 186.34L655.87 186.34 M654.15 185.78L654.15 186.34 M653.29 186.34L652.43 189.12 M653.29 187.63L655.65 187.63 M655.65 187.63L655.44 189.12 M654.15 187.63L653.72 189.12" stroke="#333" stroke-width="0.65" fill="none" stroke-linecap="square"/>
<path d="M636.92 192.59L636.92 195.91 M636.92 192.59L638.45 192.59 M636.92 194.25L638.45 194.25 M636.92 195.91L638.45 195.91 M639.11 192.59L640.86 192.59 M639.11 192.59L639.11 195.91 M640.86 192.59L640.86 195.91 M639.11 194.25L640.86 194.25 M639.11 195.91L640.86 195.91 M641.79 192.59L645.73 192.59 M641.79 192.59L641.79 195.91 M645.73 192.59L645.73 195.91 M641.79 195.91L645.73 195.91 M642.67 193.69L644.86 193.69 M642.67 194.81L644.86 194.81 M643.76 193.14L643.76 195.36 M646.67 192.59L650.61 192.59 M646.67 192.59L646.67 195.91 M650.61 192.59L650.61 195.91 M646.67 195.91L650.61 195.91 M647.54 193.69L649.73 193.69 M647.54 194.81L649.73 194.81 M648.64 193.14L648.64 195.36 M652.20 192.59L652.20 195.91 M651.54 193.51L653.08 193.51 M653.73 192.77L655.48 192.77 M653.73 193.88L655.48 193.88 M653.73 194.99L655.48 194.99 M654.61 192.77L654.61 195.91 M651.54 194.99L653.08 194.62" stroke="#333" stroke-width="0.6" fill="none" stroke-linecap="square"/>
<text transform="translate(660.97 196.10) scale(0.812 1)" font-size="5.38" font-family="Liberation Sans" font-weight="normal" fill="#444" >12</text>
<rect x="10.7" y="260.4" width="146.60000000000002" height="56.0" fill="#fff" stroke="#a9a9a9" stroke-width="0.7"/>
<line x1="24.9" y1="260.4" x2="24.9" y2="316.4" stroke="#e8e8f0" stroke-width="0.6"/>
<line x1="43.9" y1="260.4" x2="43.9" y2="316.4" stroke="#e8e8f0" stroke-width="0.6"/>
<line x1="63" y1="260.4" x2="63" y2="316.4" stroke="#e8e8f0" stroke-width="0.6"/>
<line x1="82" y1="260.4" x2="82" y2="316.4" stroke="#e8e8f0" stroke-width="0.6"/>
<line x1="100.8" y1="260.4" x2="100.8" y2="316.4" stroke="#e8e8f0" stroke-width="0.6"/>
<line x1="119.7" y1="260.4" x2="119.7" y2="316.4" stroke="#e8e8f0" stroke-width="0.6"/>
<line x1="138.5" y1="260.4" x2="138.5" y2="316.4" stroke="#e8e8f0" stroke-width="0.6"/>
<line x1="10.7" y1="271.6" x2="157.3" y2="271.6" stroke="#e8e8f0" stroke-width="0.6"/>
<line x1="10.7" y1="289" x2="157.3" y2="289" stroke="#e8e8f0" stroke-width="0.6"/>
<line x1="10.7" y1="303" x2="157.3" y2="303" stroke="#e8e8f0" stroke-width="0.6"/>
<clipPath id="c1"><rect x="10.7" y="260.4" width="146.60000000000002" height="56.0"/></clipPath>
<g clip-path="url(#c1)">
<path d="M126.00 256.00 L124.58 257.00 L123.16 258.00 L121.73 259.00 L120.30 260.00 L118.87 261.00 L117.43 262.00 L115.99 263.00 L114.55 264.00 L113.10 265.00 L111.64 266.00 L110.18 267.00 L108.71 268.00 L107.24 269.00 L105.76 270.00 L104.27 271.00 L102.77 272.00 L101.27 273.00 L99.76 274.00 L98.23 275.00 L96.70 276.00 L95.15 277.00 L93.60 278.00 L92.02 279.00 L90.44 280.00 L88.84 281.00 L87.23 282.00 L85.60 283.00 L83.95 284.00 L82.28 285.00 L80.60 286.00 L78.90 287.00 L77.17 288.00 L75.43 289.00 L73.67 290.00 L71.88 291.00 L70.08 292.00 L68.26 293.00 L66.41 294.00 L64.55 295.00 L62.66 296.00 L60.76 297.00 L58.84 298.00 L56.90 299.00 L54.95 300.00 L52.98 301.00 L50.99 302.00 L49.00 303.00 L46.98 304.00 L44.96 305.00 L42.93 306.00 L40.88 307.00 L38.82 308.00 L36.76 309.00 L34.69 310.00 L32.60 311.00 L30.51 312.00 L28.42 313.00 L26.31 314.00 L24.21 315.00 L22.09 316.00 L19.97 317.00 L17.85 318.00 L15.72 319.00 L13.58 320.00 L11.44 321.00 L9.30 322.00" fill="none" stroke="#ad5048" stroke-width="0.9"/>
<path d="M143.39 256.00 L141.60 257.00 L139.81 258.00 L138.03 259.00 L136.24 260.00 L134.46 261.00 L132.67 262.00 L130.89 263.00 L129.10 264.00 L127.31 265.00 L125.53 266.00 L123.74 267.00 L121.96 268.00 L120.17 269.00 L118.39 270.00 L116.60 271.00 L114.81 272.00 L113.03 273.00 L111.24 274.00 L109.46 275.00 L107.67 276.00 L105.89 277.00 L104.10 278.00 L102.31 279.00 L100.53 280.00 L98.74 281.00 L96.96 282.00 L95.17 283.00 L93.39 284.00 L91.60 285.00 L89.81 286.00 L88.03 287.00 L86.24 288.00 L84.46 289.00 L82.67 290.00 L80.89 291.00 L79.10 292.00 L77.31 293.00 L75.53 294.00 L73.74 295.00 L71.96 296.00 L70.17 297.00 L68.39 298.00 L66.60 299.00 L64.81 300.00 L63.03 301.00 L61.24 302.00 L59.46 303.00 L57.67 304.00 L55.89 305.00 L54.10 306.00 L52.31 307.00 L50.53 308.00 L48.74 309.00 L46.96 310.00 L45.17 311.00 L43.39 312.00 L41.60 313.00 L39.81 314.00 L38.03 315.00 L36.24 316.00 L34.46 317.00 L32.67 318.00 L30.89 319.00 L29.10 320.00 L27.31 321.00 L25.53 322.00" fill="none" stroke="#ad5048" stroke-width="0.9"/>
<path d="M160.77 256.00 L158.62 257.00 L156.47 258.00 L154.33 259.00 L152.18 260.00 L150.05 261.00 L147.91 262.00 L145.78 263.00 L143.65 264.00 L141.53 265.00 L139.42 266.00 L137.31 267.00 L135.20 268.00 L133.10 269.00 L131.01 270.00 L128.93 271.00 L126.85 272.00 L124.79 273.00 L122.73 274.00 L120.68 275.00 L118.64 276.00 L116.62 277.00 L114.60 278.00 L112.60 279.00 L110.62 280.00 L108.64 281.00 L106.69 282.00 L104.75 283.00 L102.82 284.00 L100.92 285.00 L99.03 286.00 L97.16 287.00 L95.31 288.00 L93.48 289.00 L91.68 290.00 L89.89 291.00 L88.12 292.00 L86.37 293.00 L84.65 294.00 L82.94 295.00 L81.25 296.00 L79.58 297.00 L77.93 298.00 L76.30 299.00 L74.68 300.00 L73.08 301.00 L71.49 302.00 L69.92 303.00 L68.36 304.00 L66.81 305.00 L65.27 306.00 L63.75 307.00 L62.23 308.00 L60.73 309.00 L59.23 310.00 L57.74 311.00 L56.26 312.00 L54.78 313.00 L53.31 314.00 L51.85 315.00 L50.40 316.00 L48.94 317.00 L47.50 318.00 L46.06 319.00 L44.62 320.00 L43.18 321.00 L41.76 322.00" fill="none" stroke="#ad5048" stroke-width="0.9"/>
<circle cx="24.7" cy="313" r="1.7" fill="#1f4a80"/>
<circle cx="44" cy="307.5" r="1.7" fill="#1f4a80"/>
<rect x="61.0" y="297.5" width="3.4" height="9.799999999999988" rx="1.7" fill="#1f55a0"/>
<rect x="79.89999999999999" y="280.9" width="3.4" height="19.6" rx="1.7" fill="#1f55a0"/>
<rect x="99.0" y="274.9" width="3.4" height="10.000000000000034" rx="1.7" fill="#1f55a0"/>
<circle cx="118.9" cy="264.1" r="1.7" fill="#1f4a80"/>
<rect x="117.2" y="268.2" width="3.4" height="8.799999999999988" rx="1.7" fill="#1f55a0"/>
</g>
<text transform="translate(21.96 322.40) scale(1.000 1)" font-size="4.94" font-family="Liberation Sans" font-weight="normal" fill="#4a4a4a" stroke="#4a4a4a" stroke-width="0.1">62</text>
<text transform="translate(59.61 322.40) scale(1.000 1)" font-size="4.94" font-family="Liberation Sans" font-weight="normal" fill="#4a4a4a" stroke="#4a4a4a" stroke-width="0.1">64</text>
<text transform="translate(97.23 322.40) scale(1.000 1)" font-size="4.94" font-family="Liberation Sans" font-weight="normal" fill="#4a4a4a" stroke="#4a4a4a" stroke-width="0.1">66</text>
<text transform="translate(135.03 322.40) scale(1.000 1)" font-size="4.94" font-family="Liberation Sans" font-weight="normal" fill="#4a4a4a" stroke="#4a4a4a" stroke-width="0.1">68</text>
<path d="M64.34 241.04L70.44 241.04 M64.34 241.04L64.34 247.25 M70.44 241.04L70.44 247.25 M64.34 247.25L70.44 247.25 M65.69 243.11L69.08 243.11 M65.69 245.19L69.08 245.19 M67.39 242.08L67.39 246.22 M72.93 241.04L72.93 247.25 M71.92 242.77L74.29 242.77 M75.31 241.39L78.02 241.39 M75.31 243.46L78.02 243.46 M75.31 245.53L78.02 245.53 M76.66 241.39L76.66 247.25 M71.92 245.53L74.29 244.84" stroke="#474747" stroke-width="0.72" fill="none" stroke-linecap="square"/>
<path d="M81.45 241.04L81.45 247.25 M81.45 241.04L83.79 241.04 M81.45 244.15L83.79 244.15 M81.45 247.25L83.79 247.25 M84.80 241.04L87.47 241.04 M84.80 241.04L84.80 247.25 M87.47 241.04L87.47 247.25 M84.80 244.15L87.47 244.15 M84.80 247.25L87.47 247.25 M89.28 241.39L94.64 241.39 M91.96 241.39L91.96 247.25 M89.28 243.11L94.64 243.11 M91.96 243.11L89.28 246.91 M91.96 243.11L94.64 246.91 M96.44 241.04L96.44 247.25 M96.44 241.04L98.78 241.04 M96.44 244.15L98.78 244.15 M96.44 247.25L98.78 247.25 M99.79 241.04L102.47 241.04 M99.79 241.04L99.79 247.25 M102.47 241.04L102.47 247.25 M99.79 244.15L102.47 244.15 M99.79 247.25L102.47 247.25" stroke="#474747" stroke-width="0.72" fill="none" stroke-linecap="square"/>
<text transform="translate(55.00 255.70) scale(0.932 1)" font-size="6.40" font-family="Liberation Sans" font-weight="normal" fill="#3a3a3a" >AD:1.624 , P: &lt; 0.005</text>
<rect x="180.4" y="259.5" width="146.9" height="56.5" fill="#fff" stroke="#a9a9a9" stroke-width="0.7"/>
<line x1="193.9" y1="259.5" x2="193.9" y2="316.0" stroke="#e8e8f0" stroke-width="0.6"/>
<line x1="212.9" y1="259.5" x2="212.9" y2="316.0" stroke="#e8e8f0" stroke-width="0.6"/>
<line x1="231.9" y1="259.5" x2="231.9" y2="316.0" stroke="#e8e8f0" stroke-width="0.6"/>
<line x1="250.7" y1="259.5" x2="250.7" y2="316.0" stroke="#e8e8f0" stroke-width="0.6"/>
<line x1="269.6" y1="259.5" x2="269.6" y2="316.0" stroke="#e8e8f0" stroke-width="0.6"/>
<line x1="288.4" y1="259.5" x2="288.4" y2="316.0" stroke="#e8e8f0" stroke-width="0.6"/>
<line x1="307.2" y1="259.5" x2="307.2" y2="316.0" stroke="#e8e8f0" stroke-width="0.6"/>
<line x1="180.4" y1="271" x2="327.3" y2="271" stroke="#e8e8f0" stroke-width="0.6"/>
<line x1="180.4" y1="288.5" x2="327.3" y2="288.5" stroke="#e8e8f0" stroke-width="0.6"/>
<line x1="180.4" y1="302.5" x2="327.3" y2="302.5" stroke="#e8e8f0" stroke-width="0.6"/>
<clipPath id="c2"><rect x="180.4" y="259.5" width="146.9" height="56.5"/></clipPath>
<g clip-path="url(#c2)">
<path d="M295.36 255.00 L293.94 256.00 L292.51 257.00 L291.09 258.00 L289.66 259.00 L288.23 260.00 L286.79 261.00 L285.35 262.00 L283.90 263.00 L282.45 264.00 L280.99 265.00 L279.53 266.00 L278.06 267.00 L276.59 268.00 L275.11 269.00 L273.62 270.00 L272.12 271.00 L270.62 272.00 L269.10 273.00 L267.58 274.00 L266.04 275.00 L264.50 276.00 L262.94 277.00 L261.37 278.00 L259.78 279.00 L258.18 280.00 L256.56 281.00 L254.93 282.00 L253.28 283.00 L251.62 284.00 L249.93 285.00 L248.23 286.00 L246.50 287.00 L244.76 288.00 L242.99 289.00 L241.20 290.00 L239.40 291.00 L237.57 292.00 L235.73 293.00 L233.86 294.00 L231.97 295.00 L230.07 296.00 L228.15 297.00 L226.21 298.00 L224.25 299.00 L222.28 300.00 L220.30 301.00 L218.30 302.00 L216.28 303.00 L214.26 304.00 L212.22 305.00 L210.18 306.00 L208.12 307.00 L206.05 308.00 L203.98 309.00 L201.90 310.00 L199.80 311.00 L197.71 312.00 L195.60 313.00 L193.49 314.00 L191.38 315.00 L189.26 316.00 L187.13 317.00 L185.00 318.00 L182.87 319.00 L180.73 320.00 L178.59 321.00 L176.44 322.00" fill="none" stroke="#ad5048" stroke-width="0.9"/>
<path d="M312.71 255.00 L310.92 256.00 L309.14 257.00 L307.35 258.00 L305.56 259.00 L303.78 260.00 L301.99 261.00 L300.21 262.00 L298.42 263.00 L296.64 264.00 L294.85 265.00 L293.06 266.00 L291.28 267.00 L289.49 268.00 L287.71 269.00 L285.92 270.00 L284.14 271.00 L282.35 272.00 L280.56 273.00 L278.78 274.00 L276.99 275.00 L275.21 276.00 L273.42 277.00 L271.64 278.00 L269.85 279.00 L268.06 280.00 L266.28 281.00 L264.49 282.00 L262.71 283.00 L260.92 284.00 L259.14 285.00 L257.35 286.00 L255.56 287.00 L253.78 288.00 L251.99 289.00 L250.21 290.00 L248.42 291.00 L246.64 292.00 L244.85 293.00 L243.06 294.00 L241.28 295.00 L239.49 296.00 L237.71 297.00 L235.92 298.00 L234.14 299.00 L232.35 300.00 L230.56 301.00 L228.78 302.00 L226.99 303.00 L225.21 304.00 L223.42 305.00 L221.64 306.00 L219.85 307.00 L218.06 308.00 L216.28 309.00 L214.49 310.00 L212.71 311.00 L210.92 312.00 L209.14 313.00 L207.35 314.00 L205.56 315.00 L203.78 316.00 L201.99 317.00 L200.21 318.00 L198.42 319.00 L196.64 320.00 L194.85 321.00 L193.06 322.00" fill="none" stroke="#ad5048" stroke-width="0.9"/>
<path d="M330.06 255.00 L327.91 256.00 L325.76 257.00 L323.61 258.00 L321.47 259.00 L319.33 260.00 L317.20 261.00 L315.07 262.00 L312.94 263.00 L310.82 264.00 L308.71 265.00 L306.60 266.00 L304.49 267.00 L302.40 268.00 L300.30 269.00 L298.22 270.00 L296.15 271.00 L294.08 272.00 L292.02 273.00 L289.98 274.00 L287.94 275.00 L285.92 276.00 L283.90 277.00 L281.90 278.00 L279.92 279.00 L277.95 280.00 L275.99 281.00 L274.05 282.00 L272.13 283.00 L270.23 284.00 L268.34 285.00 L266.47 286.00 L264.63 287.00 L262.80 288.00 L261.00 289.00 L259.21 290.00 L257.44 291.00 L255.70 292.00 L253.97 293.00 L252.27 294.00 L250.58 295.00 L248.92 296.00 L247.27 297.00 L245.64 298.00 L244.02 299.00 L242.42 300.00 L240.83 301.00 L239.26 302.00 L237.70 303.00 L236.16 304.00 L234.62 305.00 L233.10 306.00 L231.58 307.00 L230.08 308.00 L228.58 309.00 L227.09 310.00 L225.61 311.00 L224.14 312.00 L222.67 313.00 L221.21 314.00 L219.75 315.00 L218.30 316.00 L216.85 317.00 L215.41 318.00 L213.97 319.00 L212.54 320.00 L211.11 321.00 L209.69 322.00" fill="none" stroke="#ad5048" stroke-width="0.9"/>
<circle cx="214.2" cy="306.9" r="1.7" fill="#1f4a80"/>
<circle cx="214.2" cy="311.6" r="1.7" fill="#1f4a80"/>
<rect x="230.20000000000002" y="293.9" width="3.4" height="11.700000000000022" rx="1.7" fill="#1f55a0"/>
<rect x="248.60000000000002" y="283.0" width="3.4" height="13.499999999999977" rx="1.7" fill="#1f55a0"/>
<rect x="267.90000000000003" y="275.2" width="3.4" height="10.400000000000011" rx="1.7" fill="#1f55a0"/>
<circle cx="288.3" cy="263.5" r="1.7" fill="#1f4a80"/>
<rect x="286.6" y="267.4" width="3.4" height="10.400000000000011" rx="1.7" fill="#1f55a0"/>
</g>
<text transform="translate(191.16 322.20) scale(1.000 1)" font-size="4.94" font-family="Liberation Sans" font-weight="normal" fill="#4a4a4a" stroke="#4a4a4a" stroke-width="0.1">62</text>
<text transform="translate(229.11 322.20) scale(1.000 1)" font-size="4.94" font-family="Liberation Sans" font-weight="normal" fill="#4a4a4a" stroke="#4a4a4a" stroke-width="0.1">64</text>
<text transform="translate(266.83 322.20) scale(1.000 1)" font-size="4.94" font-family="Liberation Sans" font-weight="normal" fill="#4a4a4a" stroke="#4a4a4a" stroke-width="0.1">66</text>
<text transform="translate(304.43 322.20) scale(1.000 1)" font-size="4.94" font-family="Liberation Sans" font-weight="normal" fill="#4a4a4a" stroke="#4a4a4a" stroke-width="0.1">68</text>
<path d="M234.04 240.35L240.17 240.35 M234.04 240.35L234.04 246.65 M240.17 240.35L240.17 246.65 M234.04 246.65L240.17 246.65 M235.40 242.45L238.81 242.45 M235.40 244.55L238.81 244.55 M237.11 241.40L237.11 245.60 M241.65 240.35L241.65 246.65 M241.65 240.35L244.04 240.35 M241.65 243.50L244.04 243.50 M241.65 246.65L244.04 246.65 M245.06 240.35L247.79 240.35 M245.06 240.35L245.06 246.65 M247.79 240.35L247.79 246.65 M245.06 243.50L247.79 243.50 M245.06 246.65L247.79 246.65" stroke="#474747" stroke-width="0.72" fill="none" stroke-linecap="square"/>
<path d="M251.58 240.70L256.96 240.70 M254.27 240.70L254.27 246.65 M251.58 242.45L256.96 242.45 M254.27 242.45L251.58 246.30 M254.27 242.45L256.96 246.30 M259.11 240.70L264.50 240.70 M261.80 240.70L261.80 246.65 M259.11 242.45L264.50 242.45 M261.80 242.45L259.11 246.30 M261.80 242.45L264.50 246.30 M266.31 240.35L272.36 240.35 M266.31 240.35L266.31 246.65 M272.36 240.35L272.36 246.65 M266.31 246.65L272.36 246.65 M267.65 242.45L271.02 242.45 M267.65 244.55L271.02 244.55 M269.33 241.40L269.33 245.60" stroke="#474747" stroke-width="0.72" fill="none" stroke-linecap="square"/>
<text transform="translate(227.70 254.60) scale(0.951 1)" font-size="6.40" font-family="Liberation Sans" font-weight="normal" fill="#3a3a3a" >AD:1.047 , P: 0.008</text>
<rect x="352.1" y="261.8" width="145.09999999999997" height="55.80000000000001" fill="#fff" stroke="#a9a9a9" stroke-width="0.7"/>
<line x1="375.9" y1="261.8" x2="375.9" y2="317.6" stroke="#e8e8f0" stroke-width="0.6"/>
<line x1="402.1" y1="261.8" x2="402.1" y2="317.6" stroke="#e8e8f0" stroke-width="0.6"/>
<line x1="428.4" y1="261.8" x2="428.4" y2="317.6" stroke="#e8e8f0" stroke-width="0.6"/>
<line x1="454.4" y1="261.8" x2="454.4" y2="317.6" stroke="#e8e8f0" stroke-width="0.6"/>
<line x1="480.4" y1="261.8" x2="480.4" y2="317.6" stroke="#e8e8f0" stroke-width="0.6"/>
<line x1="352.1" y1="273" x2="497.2" y2="273" stroke="#e8e8f0" stroke-width="0.6"/>
<line x1="352.1" y1="290.5" x2="497.2" y2="290.5" stroke="#e8e8f0" stroke-width="0.6"/>
<line x1="352.1" y1="304.5" x2="497.2" y2="304.5" stroke="#e8e8f0" stroke-width="0.6"/>
<clipPath id="c3"><rect x="352.1" y="261.8" width="145.09999999999997" height="55.80000000000001"/></clipPath>
<g clip-path="url(#c3)">
<path d="M465.97 257.00 L464.61 258.00 L463.23 259.00 L461.86 260.00 L460.48 261.00 L459.09 262.00 L457.70 263.00 L456.31 264.00 L454.90 265.00 L453.50 266.00 L452.08 267.00 L450.66 268.00 L449.23 269.00 L447.80 270.00 L446.35 271.00 L444.90 272.00 L443.43 273.00 L441.96 274.00 L440.47 275.00 L438.97 276.00 L437.45 277.00 L435.93 278.00 L434.39 279.00 L432.83 280.00 L431.25 281.00 L429.66 282.00 L428.05 283.00 L426.43 284.00 L424.78 285.00 L423.11 286.00 L421.42 287.00 L419.72 288.00 L417.99 289.00 L416.24 290.00 L414.47 291.00 L412.68 292.00 L410.87 293.00 L409.04 294.00 L407.20 295.00 L405.33 296.00 L403.45 297.00 L401.56 298.00 L399.64 299.00 L397.72 300.00 L395.78 301.00 L393.82 302.00 L391.86 303.00 L389.88 304.00 L387.89 305.00 L385.90 306.00 L383.89 307.00 L381.87 308.00 L379.85 309.00 L377.82 310.00 L375.79 311.00 L373.74 312.00 L371.69 313.00 L369.64 314.00 L367.58 315.00 L365.51 316.00 L363.44 317.00 L361.37 318.00 L359.29 319.00 L357.21 320.00 L355.13 321.00 L353.04 322.00 L350.95 323.00" fill="none" stroke="#ad5048" stroke-width="0.9"/>
<path d="M482.17 257.00 L480.44 258.00 L478.72 259.00 L476.99 260.00 L475.27 261.00 L473.54 262.00 L471.82 263.00 L470.10 264.00 L468.37 265.00 L466.65 266.00 L464.92 267.00 L463.20 268.00 L461.48 269.00 L459.75 270.00 L458.03 271.00 L456.30 272.00 L454.58 273.00 L452.86 274.00 L451.13 275.00 L449.41 276.00 L447.68 277.00 L445.96 278.00 L444.23 279.00 L442.51 280.00 L440.79 281.00 L439.06 282.00 L437.34 283.00 L435.61 284.00 L433.89 285.00 L432.17 286.00 L430.44 287.00 L428.72 288.00 L426.99 289.00 L425.27 290.00 L423.54 291.00 L421.82 292.00 L420.10 293.00 L418.37 294.00 L416.65 295.00 L414.92 296.00 L413.20 297.00 L411.48 298.00 L409.75 299.00 L408.03 300.00 L406.30 301.00 L404.58 302.00 L402.86 303.00 L401.13 304.00 L399.41 305.00 L397.68 306.00 L395.96 307.00 L394.23 308.00 L392.51 309.00 L390.79 310.00 L389.06 311.00 L387.34 312.00 L385.61 313.00 L383.89 314.00 L382.17 315.00 L380.44 316.00 L378.72 317.00 L376.99 318.00 L375.27 319.00 L373.54 320.00 L371.82 321.00 L370.10 322.00 L368.37 323.00" fill="none" stroke="#ad5048" stroke-width="0.9"/>
<path d="M498.36 257.00 L496.28 258.00 L494.20 259.00 L492.13 260.00 L490.06 261.00 L488.00 262.00 L485.94 263.00 L483.89 264.00 L481.84 265.00 L479.80 266.00 L477.76 267.00 L475.74 268.00 L473.72 269.00 L471.71 270.00 L469.70 271.00 L467.71 272.00 L465.73 273.00 L463.76 274.00 L461.79 275.00 L459.85 276.00 L457.91 277.00 L455.99 278.00 L454.08 279.00 L452.19 280.00 L450.32 281.00 L448.46 282.00 L446.62 283.00 L444.80 284.00 L443.00 285.00 L441.22 286.00 L439.46 287.00 L437.72 288.00 L436.00 289.00 L434.30 290.00 L432.62 291.00 L430.96 292.00 L429.32 293.00 L427.70 294.00 L426.10 295.00 L424.51 296.00 L422.95 297.00 L421.40 298.00 L419.86 299.00 L418.34 300.00 L416.83 301.00 L415.34 302.00 L413.85 303.00 L412.38 304.00 L410.92 305.00 L409.47 306.00 L408.03 307.00 L406.59 308.00 L405.17 309.00 L403.75 310.00 L402.34 311.00 L400.93 312.00 L399.54 313.00 L398.14 314.00 L396.75 315.00 L395.37 316.00 L393.99 317.00 L392.62 318.00 L391.25 319.00 L389.88 320.00 L388.52 321.00 L387.15 322.00 L385.80 323.00" fill="none" stroke="#ad5048" stroke-width="0.9"/>
<circle cx="376.5" cy="313.8" r="1.7" fill="#1f4a80"/>
<rect x="400.3" y="294.09999999999997" width="3.4" height="16.400000000000013" rx="1.7" fill="#1f55a0"/>
<rect x="426.5" y="280.4" width="3.4" height="15.900000000000011" rx="1.7" fill="#1f55a0"/>
<circle cx="453.9" cy="265.3" r="1.7" fill="#1f4a80"/>
<rect x="452.2" y="269.0" width="3.4" height="13.699999999999966" rx="1.7" fill="#1f55a0"/>
</g>
<text transform="translate(373.18 323.60) scale(1.000 1)" font-size="4.94" font-family="Liberation Sans" font-weight="normal" fill="#4a4a4a" stroke="#4a4a4a" stroke-width="0.1">44</text>
<text transform="translate(425.71 323.60) scale(1.000 1)" font-size="4.94" font-family="Liberation Sans" font-weight="normal" fill="#4a4a4a" stroke="#4a4a4a" stroke-width="0.1">46</text>
<text transform="translate(477.71 323.60) scale(1.000 1)" font-size="4.94" font-family="Liberation Sans" font-weight="normal" fill="#4a4a4a" stroke="#4a4a4a" stroke-width="0.1">48</text>
<path d="M405.18 243.00L410.63 243.00 M407.91 243.00L407.91 248.95 M405.18 244.75L410.63 244.75 M407.91 244.75L405.18 248.60 M407.91 244.75L410.63 248.60 M412.80 243.70L418.25 243.70 M415.52 242.65L415.52 243.70 M414.16 243.70L412.80 248.95 M414.16 246.15L417.91 246.15 M417.91 246.15L417.57 248.95 M415.52 246.15L414.84 248.95" stroke="#474747" stroke-width="0.72" fill="none" stroke-linecap="square"/>
<path d="M422.04 243.00L428.10 243.00 M422.72 245.45L427.43 245.45 M422.04 248.60L428.10 248.60 M425.07 243.00L425.07 248.60 M423.05 245.45L423.05 248.60 M429.57 242.65L429.57 248.95 M429.57 242.65L431.93 242.65 M429.57 245.80L431.93 245.80 M429.57 248.95L431.93 248.95 M432.94 242.65L435.63 242.65 M432.94 242.65L432.94 248.95 M435.63 242.65L435.63 248.95 M432.94 245.80L435.63 245.80 M432.94 248.95L435.63 248.95 M437.11 243.00L443.16 243.00 M437.78 245.45L442.49 245.45 M437.11 248.60L443.16 248.60 M440.13 243.00L440.13 248.60 M438.12 245.45L438.12 248.60" stroke="#474747" stroke-width="0.72" fill="none" stroke-linecap="square"/>
<text transform="translate(395.90 257.20) scale(0.915 1)" font-size="6.40" font-family="Liberation Sans" font-weight="normal" fill="#3a3a3a" >AD:1.884 , P: &lt; 0.005</text>
<rect x="520.3" y="260.1" width="146.9000000000001" height="56.39999999999998" fill="#fff" stroke="#a9a9a9" stroke-width="0.7"/>
<line x1="533.3" y1="260.1" x2="533.3" y2="316.5" stroke="#e8e8f0" stroke-width="0.6"/>
<line x1="554.8" y1="260.1" x2="554.8" y2="316.5" stroke="#e8e8f0" stroke-width="0.6"/>
<line x1="576.2" y1="260.1" x2="576.2" y2="316.5" stroke="#e8e8f0" stroke-width="0.6"/>
<line x1="598.3" y1="260.1" x2="598.3" y2="316.5" stroke="#e8e8f0" stroke-width="0.6"/>
<line x1="620.4" y1="260.1" x2="620.4" y2="316.5" stroke="#e8e8f0" stroke-width="0.6"/>
<line x1="641.8" y1="260.1" x2="641.8" y2="316.5" stroke="#e8e8f0" stroke-width="0.6"/>
<line x1="663.3" y1="260.1" x2="663.3" y2="316.5" stroke="#e8e8f0" stroke-width="0.6"/>
<line x1="520.3" y1="271.5" x2="667.2" y2="271.5" stroke="#e8e8f0" stroke-width="0.6"/>
<line x1="520.3" y1="289" x2="667.2" y2="289" stroke="#e8e8f0" stroke-width="0.6"/>
<line x1="520.3" y1="303" x2="667.2" y2="303" stroke="#e8e8f0" stroke-width="0.6"/>
<clipPath id="c4"><rect x="520.3" y="260.1" width="146.9000000000001" height="56.39999999999998"/></clipPath>
<g clip-path="url(#c4)">
<path d="M635.21 255.00 L633.85 256.00 L632.48 257.00 L631.11 258.00 L629.73 259.00 L628.35 260.00 L626.97 261.00 L625.58 262.00 L624.19 263.00 L622.79 264.00 L621.38 265.00 L619.97 266.00 L618.55 267.00 L617.12 268.00 L615.68 269.00 L614.24 270.00 L612.79 271.00 L611.32 272.00 L609.85 273.00 L608.37 274.00 L606.87 275.00 L605.36 276.00 L603.83 277.00 L602.30 278.00 L600.74 279.00 L599.17 280.00 L597.58 281.00 L595.98 282.00 L594.35 283.00 L592.71 284.00 L591.05 285.00 L589.36 286.00 L587.66 287.00 L585.94 288.00 L584.19 289.00 L582.43 290.00 L580.64 291.00 L578.84 292.00 L577.01 293.00 L575.17 294.00 L573.31 295.00 L571.43 296.00 L569.54 297.00 L567.63 298.00 L565.70 299.00 L563.77 300.00 L561.81 301.00 L559.85 302.00 L557.88 303.00 L555.89 304.00 L553.90 305.00 L551.89 306.00 L549.88 307.00 L547.86 308.00 L545.83 309.00 L543.79 310.00 L541.75 311.00 L539.70 312.00 L537.65 313.00 L535.59 314.00 L533.53 315.00 L531.46 316.00 L529.38 317.00 L527.31 318.00 L525.23 319.00 L523.14 320.00 L521.06 321.00 L518.97 322.00" fill="none" stroke="#ad5048" stroke-width="0.9"/>
<path d="M651.83 255.00 L650.11 256.00 L648.39 257.00 L646.66 258.00 L644.94 259.00 L643.21 260.00 L641.49 261.00 L639.77 262.00 L638.04 263.00 L636.32 264.00 L634.59 265.00 L632.87 266.00 L631.14 267.00 L629.42 268.00 L627.70 269.00 L625.97 270.00 L624.25 271.00 L622.52 272.00 L620.80 273.00 L619.08 274.00 L617.35 275.00 L615.63 276.00 L613.90 277.00 L612.18 278.00 L610.46 279.00 L608.73 280.00 L607.01 281.00 L605.28 282.00 L603.56 283.00 L601.83 284.00 L600.11 285.00 L598.39 286.00 L596.66 287.00 L594.94 288.00 L593.21 289.00 L591.49 290.00 L589.77 291.00 L588.04 292.00 L586.32 293.00 L584.59 294.00 L582.87 295.00 L581.14 296.00 L579.42 297.00 L577.70 298.00 L575.97 299.00 L574.25 300.00 L572.52 301.00 L570.80 302.00 L569.08 303.00 L567.35 304.00 L565.63 305.00 L563.90 306.00 L562.18 307.00 L560.46 308.00 L558.73 309.00 L557.01 310.00 L555.28 311.00 L553.56 312.00 L551.83 313.00 L550.11 314.00 L548.39 315.00 L546.66 316.00 L544.94 317.00 L543.21 318.00 L541.49 319.00 L539.77 320.00 L538.04 321.00 L536.32 322.00" fill="none" stroke="#ad5048" stroke-width="0.9"/>
<path d="M668.46 255.00 L666.37 256.00 L664.29 257.00 L662.22 258.00 L660.14 259.00 L658.07 260.00 L656.01 261.00 L653.95 262.00 L651.90 263.00 L649.85 264.00 L647.81 265.00 L645.77 266.00 L643.74 267.00 L641.72 268.00 L639.71 269.00 L637.70 270.00 L635.71 271.00 L633.72 272.00 L631.75 273.00 L629.79 274.00 L627.83 275.00 L625.90 276.00 L623.97 277.00 L622.06 278.00 L620.17 279.00 L618.29 280.00 L616.43 281.00 L614.59 282.00 L612.76 283.00 L610.96 284.00 L609.17 285.00 L607.41 286.00 L605.66 287.00 L603.94 288.00 L602.24 289.00 L600.55 290.00 L598.89 291.00 L597.25 292.00 L595.62 293.00 L594.02 294.00 L592.43 295.00 L590.86 296.00 L589.30 297.00 L587.77 298.00 L586.24 299.00 L584.73 300.00 L583.23 301.00 L581.75 302.00 L580.28 303.00 L578.81 304.00 L577.36 305.00 L575.92 306.00 L574.48 307.00 L573.05 308.00 L571.63 309.00 L570.22 310.00 L568.81 311.00 L567.41 312.00 L566.02 313.00 L564.63 314.00 L563.25 315.00 L561.87 316.00 L560.49 317.00 L559.12 318.00 L557.75 319.00 L556.39 320.00 L555.03 321.00 L553.67 322.00" fill="none" stroke="#ad5048" stroke-width="0.9"/>
<circle cx="545.3" cy="312.5" r="1.45" fill="#1f4a80"/>
<circle cx="559.5" cy="307.1" r="1.45" fill="#1f4a80"/>
<circle cx="564.2" cy="304.7" r="1.45" fill="#1f4a80"/>
<circle cx="569.9" cy="302.3" r="1.45" fill="#1f4a80"/>
<circle cx="626.2" cy="271.6" r="1.45" fill="#1f4a80"/>
<circle cx="636.2" cy="269.2" r="1.45" fill="#1f4a80"/>
<circle cx="644" cy="264" r="1.45" fill="#1f4a80"/>
<circle cx="575.4" cy="300.0" r="1.45" fill="#1f4a80"/>
<circle cx="577.04" cy="298.6" r="1.45" fill="#1f4a80"/>
<circle cx="578.68" cy="297.2" r="1.45" fill="#1f4a80"/>
<circle cx="580.32" cy="295.8" r="1.45" fill="#1f4a80"/>
<circle cx="581.96" cy="294.4" r="1.45" fill="#1f4a80"/>
<circle cx="583.6" cy="293.0" r="1.45" fill="#1f4a80"/>
<circle cx="586.0" cy="290.5" r="1.45" fill="#1f4a80"/>
<circle cx="587.77" cy="289.54" r="1.45" fill="#1f4a80"/>
<circle cx="589.55" cy="288.57" r="1.45" fill="#1f4a80"/>
<circle cx="591.33" cy="287.61" r="1.45" fill="#1f4a80"/>
<circle cx="593.1" cy="286.65" r="1.45" fill="#1f4a80"/>
<circle cx="594.88" cy="285.69" r="1.45" fill="#1f4a80"/>
<circle cx="596.65" cy="284.73" r="1.45" fill="#1f4a80"/>
<circle cx="598.42" cy="283.76" r="1.45" fill="#1f4a80"/>
<circle cx="600.2" cy="282.8" r="1.45" fill="#1f4a80"/>
<circle cx="601.98" cy="281.84" r="1.45" fill="#1f4a80"/>
<circle cx="603.75" cy="280.88" r="1.45" fill="#1f4a80"/>
<circle cx="605.52" cy="279.91" r="1.45" fill="#1f4a80"/>
<circle cx="607.3" cy="278.95" r="1.45" fill="#1f4a80"/>
<circle cx="609.07" cy="277.99" r="1.45" fill="#1f4a80"/>
<circle cx="610.85" cy="277.03" r="1.45" fill="#1f4a80"/>
<circle cx="612.62" cy="276.06" r="1.45" fill="#1f4a80"/>
<circle cx="614.6" cy="275.0" r="1.45" fill="#1f4a80"/>
</g>
<text transform="translate(530.47 322.20) scale(1.000 1)" font-size="4.94" font-family="Liberation Sans" font-weight="normal" fill="#4a4a4a" stroke="#4a4a4a" stroke-width="0.1">18</text>
<text transform="translate(573.42 322.20) scale(1.000 1)" font-size="4.94" font-family="Liberation Sans" font-weight="normal" fill="#4a4a4a" stroke="#4a4a4a" stroke-width="0.1">20</text>
<text transform="translate(617.66 322.20) scale(1.000 1)" font-size="4.94" font-family="Liberation Sans" font-weight="normal" fill="#4a4a4a" stroke="#4a4a4a" stroke-width="0.1">22</text>
<text transform="translate(660.51 322.20) scale(1.000 1)" font-size="4.94" font-family="Liberation Sans" font-weight="normal" fill="#4a4a4a" stroke="#4a4a4a" stroke-width="0.1">24</text>
<path d="M574.78 241.40L580.23 241.40 M577.51 240.35L577.51 241.40 M576.14 241.40L574.78 246.65 M576.14 243.85L579.89 243.85 M579.89 243.85L579.55 246.65 M577.51 243.85L576.83 246.65 M582.40 240.70L587.85 240.70 M585.12 240.70L585.12 246.65 M582.40 242.45L587.85 242.45 M585.12 242.45L582.40 246.30 M585.12 242.45L587.85 246.30" stroke="#474747" stroke-width="0.72" fill="none" stroke-linecap="square"/>
<path d="M591.98 241.40L597.37 241.40 M594.67 240.35L594.67 241.40 M593.33 241.40L591.98 246.65 M593.33 243.85L597.03 243.85 M597.03 243.85L596.69 246.65 M594.67 243.85L594.00 246.65 M600.18 240.35L600.18 246.65 M599.17 242.10L601.53 242.10 M602.54 240.70L605.23 240.70 M602.54 242.80L605.23 242.80 M602.54 244.90L605.23 244.90 M603.89 240.70L603.89 246.65 M599.17 244.90L601.53 244.20 M607.04 240.70L612.43 240.70 M609.73 240.70L609.73 246.65 M607.04 242.45L612.43 242.45 M609.73 242.45L607.04 246.30 M609.73 242.45L612.43 246.30" stroke="#474747" stroke-width="0.72" fill="none" stroke-linecap="square"/>
<text transform="translate(568.40 254.60) scale(0.913 1)" font-size="6.40" font-family="Liberation Sans" font-weight="normal" fill="#3a3a3a" >AD:0.266 , P: 0.601</text>
<path d="M71.85 335.40L77.02 335.40 M74.43 334.35L74.43 335.40 M73.14 335.40L71.85 340.65 M73.14 337.85L76.70 337.85 M76.70 337.85L76.37 340.65 M74.43 337.85L73.79 340.65 M78.89 334.70L84.71 334.70 M79.54 337.15L84.06 337.15 M78.89 340.30L84.71 340.30 M81.80 334.70L81.80 340.30 M79.86 337.15L79.86 340.30 M86.26 334.70L92.08 334.70 M86.90 337.15L91.43 337.15 M86.26 340.30L92.08 340.30 M89.17 334.70L89.17 340.30 M87.23 337.15L87.23 340.30" stroke="#474747" stroke-width="0.75" fill="none" stroke-linecap="square"/>
<rect x="4.6" y="345.1" width="37.5" height="38.299999999999955" fill="#fff" stroke="#b4b4b4" stroke-width="0.6"/>
<path d="M18.96 348.46L22.84 348.46 M19.39 349.72L22.41 349.72 M18.96 351.34L22.84 351.34 M20.90 348.46L20.90 351.34 M19.61 349.72L19.61 351.34 M24.08 348.82L27.52 348.82 M25.80 348.28L25.80 348.82 M24.94 348.82L24.08 351.52 M24.94 350.08L27.31 350.08 M27.31 350.08L27.09 351.52 M25.80 350.08L25.37 351.52" stroke="#3a3a3a" stroke-width="0.65" fill="none" stroke-linecap="square"/>
<path d="M7.60 355.06L10.77 355.06 M9.18 355.06L9.18 358.12 M7.60 355.96L10.77 355.96 M9.18 355.96L7.60 357.94 M9.18 355.96L10.77 357.94 M12.06 355.42L15.24 355.42 M13.65 354.88L13.65 355.42 M12.86 355.42L12.06 358.12 M12.86 356.68L15.04 356.68 M15.04 356.68L14.84 358.12 M13.65 356.68L13.25 358.12 M16.53 355.06L19.70 355.06 M18.12 355.06L18.12 358.12 M16.53 355.96L19.70 355.96 M18.12 355.96L16.53 357.94 M18.12 355.96L19.70 357.94" stroke="#3a3a3a" stroke-width="0.6" fill="none" stroke-linecap="square"/>
<text transform="translate(25.23 358.30) scale(0.942 1)" font-size="5.23" font-family="Liberation Sans" font-weight="normal" fill="#3a3a3a" >1.146</text>
<text transform="translate(6.98 365.60) scale(0.839 1)" font-size="5.23" font-family="Liberation Sans" font-weight="normal" fill="#3a3a3a" >Cp</text>
<text transform="translate(25.21 365.60) scale(0.982 1)" font-size="5.23" font-family="Liberation Sans" font-weight="normal" fill="#3a3a3a" >1.45</text>
<text transform="translate(6.97 372.90) scale(0.862 1)" font-size="5.23" font-family="Liberation Sans" font-weight="normal" fill="#3a3a3a" >Cpk</text>
<text transform="translate(25.21 372.90) scale(0.984 1)" font-size="5.23" font-family="Liberation Sans" font-weight="normal" fill="#3a3a3a" >1.41</text>
<text transform="translate(6.84 380.20) scale(0.858 1)" font-size="5.23" font-family="Liberation Sans" font-weight="normal" fill="#3a3a3a" >PPM</text>
<text transform="translate(25.23 380.20) scale(0.944 1)" font-size="5.23" font-family="Liberation Sans" font-weight="normal" fill="#3a3a3a" >14.71</text>
<rect x="122.8" y="345.6" width="37.10000000000001" height="45.099999999999966" fill="#fff" stroke="#b4b4b4" stroke-width="0.6"/>
<path d="M137.18 349.32L140.62 349.32 M138.90 348.78L138.90 349.32 M138.04 349.32L137.18 352.02 M138.04 350.58L140.41 350.58 M140.41 350.58L140.19 352.02 M138.90 350.58L138.47 352.02 M142.08 348.96L145.52 348.96 M143.80 348.96L143.80 352.02 M142.08 349.86L145.52 349.86 M143.80 349.86L142.08 351.84 M143.80 349.86L145.52 351.84" stroke="#3a3a3a" stroke-width="0.65" fill="none" stroke-linecap="square"/>
<path d="M125.80 355.66L128.97 355.66 M127.38 355.66L127.38 358.72 M125.80 356.56L128.97 356.56 M127.38 356.56L125.80 358.54 M127.38 356.56L128.97 358.54 M130.66 355.48L130.66 358.72 M130.06 356.38L131.45 356.38 M132.05 355.66L133.64 355.66 M132.05 356.74L133.64 356.74 M132.05 357.82L133.64 357.82 M132.84 355.66L132.84 358.72 M130.06 357.82L131.45 357.46 M134.53 355.48L138.10 355.48 M134.53 355.48L134.53 358.72 M138.10 355.48L138.10 358.72 M134.53 358.72L138.10 358.72 M135.33 356.56L137.31 356.56 M135.33 357.64L137.31 357.64 M136.32 356.02L136.32 358.18" stroke="#3a3a3a" stroke-width="0.6" fill="none" stroke-linecap="square"/>
<text transform="translate(143.20 358.90) scale(0.945 1)" font-size="5.23" font-family="Liberation Sans" font-weight="normal" fill="#3a3a3a" >1.137</text>
<text transform="translate(125.02 365.85) scale(0.903 1)" font-size="5.23" font-family="Liberation Sans" font-weight="normal" fill="#3a3a3a" >Pp</text>
<text transform="translate(143.19 365.85) scale(0.987 1)" font-size="5.23" font-family="Liberation Sans" font-weight="normal" fill="#3a3a3a" >1.47</text>
<text transform="translate(125.02 372.80) scale(0.906 1)" font-size="5.23" font-family="Liberation Sans" font-weight="normal" fill="#3a3a3a" >Ppk</text>
<text transform="translate(143.19 372.80) scale(0.982 1)" font-size="5.23" font-family="Liberation Sans" font-weight="normal" fill="#3a3a3a" >1.43</text>
<text transform="translate(125.20 379.75) scale(0.745 1)" font-size="5.23" font-family="Liberation Sans" font-weight="normal" fill="#3a3a3a" >Cpm</text>
<text transform="translate(143.81 378.75) scale(1.597 1)" font-size="2.61" font-family="Liberation Sans" font-weight="normal" fill="#3a3a3a" >*</text>
<text transform="translate(125.04 386.70) scale(0.858 1)" font-size="5.23" font-family="Liberation Sans" font-weight="normal" fill="#3a3a3a" >PPM</text>
<text transform="translate(143.20 386.70) scale(0.945 1)" font-size="5.23" font-family="Liberation Sans" font-weight="normal" fill="#3a3a3a" >12.42</text>
<rect x="44.9" y="344.9" width="74.5" height="24.426900000000046" fill="#fff" stroke="#b8b8b8" stroke-width="0.6"/>
<line x1="44.9" y1="352.9676" x2="119.4" y2="352.9676" stroke="#c0c0c0" stroke-width="0.6"/>
<path d="M77.58 347.04L81.62 347.04 M77.58 347.04L77.58 350.82 M81.62 347.04L81.62 350.82 M77.58 350.82L81.62 350.82 M78.48 348.30L80.73 348.30 M78.48 349.56L80.73 349.56 M79.60 347.67L79.60 350.19 M82.67 347.04L82.67 350.82 M82.67 347.04L84.25 347.04 M82.67 348.93L84.25 348.93 M82.67 350.82L84.25 350.82 M84.92 347.04L86.72 347.04 M84.92 347.04L84.92 350.82 M86.72 347.04L86.72 350.82 M84.92 348.93L86.72 348.93 M84.92 350.82L86.72 350.82" stroke="#333" stroke-width="0.7" fill="none" stroke-linecap="square"/>
<line x1="60.7" y1="361.4" x2="105.8" y2="361.4" stroke="#666" stroke-width="0.65"/>
<line x1="60.7" y1="360.09999999999997" x2="60.7" y2="362.7" stroke="#444" stroke-width="0.75"/>
<line x1="105.8" y1="360.09999999999997" x2="105.8" y2="362.7" stroke="#444" stroke-width="0.75"/>
<line x1="83.4" y1="360.09999999999997" x2="83.4" y2="362.7" stroke="#444" stroke-width="0.75"/>
<rect x="44.9" y="370.0739" width="74.5" height="23.904000000000053" fill="#fff" stroke="#b8b8b8" stroke-width="0.6"/>
<line x1="44.9" y1="377.76800000000003" x2="119.4" y2="377.76800000000003" stroke="#c0c0c0" stroke-width="0.6"/>
<path d="M77.80 372.66L81.40 372.66 M79.60 372.03L79.60 372.66 M78.70 372.66L77.80 375.81 M78.70 374.13L81.18 374.13 M81.18 374.13L80.95 375.81 M79.60 374.13L79.15 375.81 M82.90 372.24L86.50 372.24 M84.70 372.24L84.70 375.81 M82.90 373.29L86.50 373.29 M84.70 373.29L82.90 375.60 M84.70 373.29L86.50 375.60" stroke="#333" stroke-width="0.7" fill="none" stroke-linecap="square"/>
<line x1="60.7" y1="385.8" x2="105.8" y2="385.8" stroke="#666" stroke-width="0.65"/>
<line x1="60.7" y1="384.5" x2="60.7" y2="387.1" stroke="#444" stroke-width="0.75"/>
<line x1="105.8" y1="384.5" x2="105.8" y2="387.1" stroke="#444" stroke-width="0.75"/>
<line x1="83.4" y1="384.5" x2="83.4" y2="387.1" stroke="#444" stroke-width="0.75"/>
<rect x="44.9" y="394.7996" width="74.5" height="24.800400000000025" fill="#fff" stroke="#b8b8b8" stroke-width="0.6"/>
<line x1="44.9" y1="402.5684" x2="119.4" y2="402.5684" stroke="#c0c0c0" stroke-width="0.6"/>
<path d="M77.80 397.00L81.40 397.00 M79.60 397.00L79.60 400.57 M77.80 398.05L81.40 398.05 M79.60 398.05L77.80 400.36 M79.60 398.05L81.40 400.36 M82.67 396.79L86.72 396.79 M82.67 396.79L82.67 400.57 M86.72 396.79L86.72 400.57 M82.67 400.57L86.72 400.57 M83.58 398.05L85.83 398.05 M83.58 399.31L85.83 399.31 M84.70 397.42L84.70 399.94" stroke="#333" stroke-width="0.7" fill="none" stroke-linecap="square"/>
<line x1="49.3" y1="410.6" x2="114.3" y2="410.6" stroke="#666" stroke-width="0.65"/>
<line x1="49.3" y1="409.3" x2="49.3" y2="411.90000000000003" stroke="#444" stroke-width="0.75"/>
<line x1="114.3" y1="409.3" x2="114.3" y2="411.90000000000003" stroke="#444" stroke-width="0.75"/>
<path d="M241.83 334.35L241.83 340.65 M241.83 334.35L244.15 334.35 M241.83 337.50L244.15 337.50 M241.83 340.65L244.15 340.65 M245.15 334.35L247.80 334.35 M245.15 334.35L245.15 340.65 M247.80 334.35L247.80 340.65 M245.15 337.50L247.80 337.50 M245.15 340.65L247.80 340.65 M249.70 334.70L255.00 334.70 M252.35 334.70L252.35 340.65 M249.70 336.45L255.00 336.45 M252.35 336.45L249.70 340.30 M252.35 336.45L255.00 340.30 M256.90 334.70L262.87 334.70 M257.56 337.15L262.20 337.15 M256.90 340.30L262.87 340.30 M259.88 334.70L259.88 340.30 M257.89 337.15L257.89 340.30" stroke="#474747" stroke-width="0.75" fill="none" stroke-linecap="square"/>
<rect x="174.6" y="345.1" width="37.5" height="38.299999999999955" fill="#fff" stroke="#b4b4b4" stroke-width="0.6"/>
<path d="M188.97 348.28L192.84 348.28 M188.97 348.28L188.97 351.52 M192.84 348.28L192.84 351.52 M188.97 351.52L192.84 351.52 M189.82 349.36L191.97 349.36 M189.82 350.44L191.97 350.44 M190.90 348.82L190.90 350.98 M193.87 348.28L197.74 348.28 M193.87 348.28L193.87 351.52 M197.74 348.28L197.74 351.52 M193.87 351.52L197.74 351.52 M194.72 349.36L196.88 349.36 M194.72 350.44L196.88 350.44 M195.80 348.82L195.80 350.98" stroke="#3a3a3a" stroke-width="0.65" fill="none" stroke-linecap="square"/>
<path d="M177.60 355.42L180.77 355.42 M179.18 354.88L179.18 355.42 M178.39 355.42L177.60 358.12 M178.39 356.68L180.57 356.68 M180.57 356.68L180.37 358.12 M179.18 356.68L178.79 358.12 M182.06 355.06L185.24 355.06 M183.65 355.06L183.65 358.12 M182.06 355.96L185.24 355.96 M183.65 355.96L182.06 357.94 M183.65 355.96L185.24 357.94 M186.53 355.06L189.70 355.06 M188.12 355.06L188.12 358.12 M186.53 355.96L189.70 355.96 M188.12 355.96L186.53 357.94 M188.12 355.96L189.70 357.94" stroke="#3a3a3a" stroke-width="0.6" fill="none" stroke-linecap="square"/>
<text transform="translate(195.23 358.30) scale(0.945 1)" font-size="5.23" font-family="Liberation Sans" font-weight="normal" fill="#3a3a3a" >1.167</text>
<text transform="translate(176.98 365.60) scale(0.839 1)" font-size="5.23" font-family="Liberation Sans" font-weight="normal" fill="#3a3a3a" >Cp</text>
<text transform="translate(195.21 365.60) scale(0.984 1)" font-size="5.23" font-family="Liberation Sans" font-weight="normal" fill="#3a3a3a" >1.41</text>
<text transform="translate(176.97 372.90) scale(0.862 1)" font-size="5.23" font-family="Liberation Sans" font-weight="normal" fill="#3a3a3a" >Cpk</text>
<text transform="translate(195.21 372.90) scale(0.987 1)" font-size="5.23" font-family="Liberation Sans" font-weight="normal" fill="#3a3a3a" >1.37</text>
<text transform="translate(176.84 380.20) scale(0.858 1)" font-size="5.23" font-family="Liberation Sans" font-weight="normal" fill="#3a3a3a" >PPM</text>
<text transform="translate(195.36 380.20) scale(0.934 1)" font-size="5.23" font-family="Liberation Sans" font-weight="normal" fill="#3a3a3a" >23.59</text>
<rect x="293.8" y="345.6" width="37.5" height="43.89999999999998" fill="#fff" stroke="#b4b4b4" stroke-width="0.6"/>
<path d="M308.38 348.96L311.82 348.96 M310.10 348.96L310.10 352.02 M308.38 349.86L311.82 349.86 M310.10 349.86L308.38 351.84 M310.10 349.86L311.82 351.84 M313.06 348.78L316.94 348.78 M313.06 348.78L313.06 352.02 M316.94 348.78L316.94 352.02 M313.06 352.02L316.94 352.02 M313.93 349.86L316.08 349.86 M313.93 350.94L316.08 350.94 M315.00 349.32L315.00 351.48" stroke="#3a3a3a" stroke-width="0.65" fill="none" stroke-linecap="square"/>
<path d="M296.60 355.48L300.17 355.48 M296.60 355.48L296.60 358.72 M300.17 355.48L300.17 358.72 M296.60 358.72L300.17 358.72 M297.39 356.56L299.38 356.56 M297.39 357.64L299.38 357.64 M298.38 356.02L298.38 358.18 M301.06 355.66L304.63 355.66 M301.46 356.92L304.24 356.92 M301.06 358.54L304.63 358.54 M302.85 355.66L302.85 358.54 M301.66 356.92L301.66 358.54 M305.73 355.66L308.90 355.66 M307.32 355.66L307.32 358.72 M305.73 356.56L308.90 356.56 M307.32 356.56L305.73 358.54 M307.32 356.56L308.90 358.54" stroke="#3a3a3a" stroke-width="0.6" fill="none" stroke-linecap="square"/>
<text transform="translate(314.43 358.90) scale(0.945 1)" font-size="5.23" font-family="Liberation Sans" font-weight="normal" fill="#3a3a3a" >1.157</text>
<text transform="translate(296.02 365.85) scale(0.903 1)" font-size="5.23" font-family="Liberation Sans" font-weight="normal" fill="#3a3a3a" >Pp</text>
<text transform="translate(314.42 365.85) scale(0.976 1)" font-size="5.23" font-family="Liberation Sans" font-weight="normal" fill="#3a3a3a" >1.44</text>
<text transform="translate(296.02 372.80) scale(0.906 1)" font-size="5.23" font-family="Liberation Sans" font-weight="normal" fill="#3a3a3a" >Ppk</text>
<text transform="translate(314.41 372.80) scale(0.982 1)" font-size="5.23" font-family="Liberation Sans" font-weight="normal" fill="#3a3a3a" >1.38</text>
<text transform="translate(296.21 379.75) scale(0.745 1)" font-size="5.23" font-family="Liberation Sans" font-weight="normal" fill="#3a3a3a" >Cpm</text>
<text transform="translate(315.04 378.75) scale(1.597 1)" font-size="2.61" font-family="Liberation Sans" font-weight="normal" fill="#3a3a3a" >*</text>
<text transform="translate(296.04 386.70) scale(0.858 1)" font-size="5.23" font-family="Liberation Sans" font-weight="normal" fill="#3a3a3a" >PPM</text>
<text transform="translate(314.55 386.70) scale(0.964 1)" font-size="5.23" font-family="Liberation Sans" font-weight="normal" fill="#3a3a3a" >20.11</text>
<rect x="214.9" y="344.9" width="75.99999999999997" height="24.426900000000046" fill="#fff" stroke="#b8b8b8" stroke-width="0.6"/>
<line x1="214.9" y1="352.9676" x2="290.9" y2="352.9676" stroke="#c0c0c0" stroke-width="0.6"/>
<path d="M248.32 347.04L248.32 350.82 M248.32 347.04L249.90 347.04 M248.32 348.93L249.90 348.93 M248.32 350.82L249.90 350.82 M250.57 347.04L252.37 347.04 M250.57 347.04L250.57 350.82 M252.37 347.04L252.37 350.82 M250.57 348.93L252.37 348.93 M250.57 350.82L252.37 350.82 M254.10 347.04L254.10 350.82 M253.42 348.09L255.00 348.09 M255.67 347.25L257.48 347.25 M255.67 348.51L257.48 348.51 M255.67 349.77L257.48 349.77 M256.57 347.25L256.57 350.82 M253.42 349.77L255.00 349.35" stroke="#333" stroke-width="0.7" fill="none" stroke-linecap="square"/>
<line x1="230.6" y1="360.0" x2="277.7" y2="360.0" stroke="#666" stroke-width="0.65"/>
<line x1="230.6" y1="358.7" x2="230.6" y2="361.3" stroke="#444" stroke-width="0.75"/>
<line x1="277.7" y1="358.7" x2="277.7" y2="361.3" stroke="#444" stroke-width="0.75"/>
<line x1="253.6" y1="358.7" x2="253.6" y2="361.3" stroke="#444" stroke-width="0.75"/>
<rect x="214.9" y="370.0739" width="75.99999999999997" height="23.904000000000053" fill="#fff" stroke="#b8b8b8" stroke-width="0.6"/>
<line x1="214.9" y1="377.76800000000003" x2="290.9" y2="377.76800000000003" stroke="#c0c0c0" stroke-width="0.6"/>
<path d="M248.55 372.66L252.15 372.66 M250.35 372.03L250.35 372.66 M249.45 372.66L248.55 375.81 M249.45 374.13L251.92 374.13 M251.92 374.13L251.70 375.81 M250.35 374.13L249.90 375.81 M253.42 372.24L257.48 372.24 M253.88 373.71L257.02 373.71 M253.42 375.60L257.48 375.60 M255.45 372.24L255.45 375.60 M254.10 373.71L254.10 375.60" stroke="#333" stroke-width="0.7" fill="none" stroke-linecap="square"/>
<line x1="230.6" y1="385.5" x2="277.7" y2="385.5" stroke="#666" stroke-width="0.65"/>
<line x1="230.6" y1="384.2" x2="230.6" y2="386.8" stroke="#444" stroke-width="0.75"/>
<line x1="277.7" y1="384.2" x2="277.7" y2="386.8" stroke="#444" stroke-width="0.75"/>
<line x1="253.6" y1="384.2" x2="253.6" y2="386.8" stroke="#444" stroke-width="0.75"/>
<rect x="214.9" y="394.7996" width="75.99999999999997" height="24.800400000000025" fill="#fff" stroke="#b8b8b8" stroke-width="0.6"/>
<line x1="214.9" y1="402.5684" x2="290.9" y2="402.5684" stroke="#c0c0c0" stroke-width="0.6"/>
<path d="M248.32 396.79L248.32 400.57 M248.32 396.79L249.90 396.79 M248.32 398.68L249.90 398.68 M248.32 400.57L249.90 400.57 M250.57 396.79L252.37 396.79 M250.57 396.79L250.57 400.57 M252.37 396.79L252.37 400.57 M250.57 398.68L252.37 398.68 M250.57 400.57L252.37 400.57 M253.42 397.00L257.48 397.00 M253.88 398.47L257.02 398.47 M253.42 400.36L257.48 400.36 M255.45 397.00L255.45 400.36 M254.10 398.47L254.10 400.36" stroke="#333" stroke-width="0.7" fill="none" stroke-linecap="square"/>
<line x1="218.8" y1="409.7" x2="286.6" y2="409.7" stroke="#666" stroke-width="0.65"/>
<line x1="218.8" y1="408.4" x2="218.8" y2="411.0" stroke="#444" stroke-width="0.75"/>
<line x1="286.6" y1="408.4" x2="286.6" y2="411.0" stroke="#444" stroke-width="0.75"/>
<path d="M411.83 336.05L411.83 342.35 M411.83 336.05L414.15 336.05 M411.83 339.20L414.15 339.20 M411.83 342.35L414.15 342.35 M415.15 336.05L417.80 336.05 M415.15 336.05L415.15 342.35 M417.80 336.05L417.80 342.35 M415.15 339.20L417.80 339.20 M415.15 342.35L417.80 342.35 M419.70 337.10L425.00 337.10 M422.35 336.05L422.35 337.10 M421.02 337.10L419.70 342.35 M421.02 339.55L424.67 339.55 M424.67 339.55L424.34 342.35 M422.35 339.55L421.69 342.35 M427.23 337.10L432.54 337.10 M429.88 336.05L429.88 337.10 M428.56 337.10L427.23 342.35 M428.56 339.55L432.20 339.55 M432.20 339.55L431.87 342.35 M429.88 339.55L429.22 342.35" stroke="#474747" stroke-width="0.75" fill="none" stroke-linecap="square"/>
<rect x="344.6" y="346.9" width="41.39999999999998" height="37.0" fill="#fff" stroke="#b4b4b4" stroke-width="0.6"/>
<path d="M360.91 350.08L364.79 350.08 M360.91 350.08L360.91 353.32 M364.79 350.08L364.79 353.32 M360.91 353.32L364.79 353.32 M361.77 351.16L363.93 351.16 M361.77 352.24L363.93 352.24 M362.85 350.62L362.85 352.78 M366.03 350.26L369.47 350.26 M367.75 350.26L367.75 353.32 M366.03 351.16L369.47 351.16 M367.75 351.16L366.03 353.14 M367.75 351.16L369.47 353.14" stroke="#3a3a3a" stroke-width="0.65" fill="none" stroke-linecap="square"/>
<path d="M347.99 356.68L347.99 359.92 M347.40 357.58L348.79 357.58 M349.38 356.86L350.97 356.86 M349.38 357.94L350.97 357.94 M349.38 359.02L350.97 359.02 M350.18 356.86L350.18 359.92 M347.40 359.02L348.79 358.66 M351.87 356.68L351.87 359.92 M351.87 356.68L353.25 356.68 M351.87 358.30L353.25 358.30 M351.87 359.92L353.25 359.92 M353.85 356.68L355.44 356.68 M353.85 356.68L353.85 359.92 M355.44 356.68L355.44 359.92 M353.85 358.30L355.44 358.30 M353.85 359.92L355.44 359.92 M356.33 356.68L359.90 356.68 M356.33 356.68L356.33 359.92 M359.90 356.68L359.90 359.92 M356.33 359.92L359.90 359.92 M357.13 357.76L359.11 357.76 M357.13 358.84L359.11 358.84 M358.12 357.22L358.12 359.38" stroke="#3a3a3a" stroke-width="0.6" fill="none" stroke-linecap="square"/>
<text transform="translate(367.60 360.10) scale(0.901 1)" font-size="5.23" font-family="Liberation Sans" font-weight="normal" fill="#3a3a3a" >0.8264</text>
<text transform="translate(346.98 367.40) scale(0.839 1)" font-size="5.23" font-family="Liberation Sans" font-weight="normal" fill="#3a3a3a" >Cp</text>
<text transform="translate(367.53 367.40) scale(0.974 1)" font-size="5.23" font-family="Liberation Sans" font-weight="normal" fill="#3a3a3a" >2.02</text>
<text transform="translate(346.97 374.70) scale(0.862 1)" font-size="5.23" font-family="Liberation Sans" font-weight="normal" fill="#3a3a3a" >Cpk</text>
<text transform="translate(367.40 374.70) scale(0.987 1)" font-size="5.23" font-family="Liberation Sans" font-weight="normal" fill="#3a3a3a" >1.67</text>
<text transform="translate(346.84 382.00) scale(0.858 1)" font-size="5.23" font-family="Liberation Sans" font-weight="normal" fill="#3a3a3a" >PPM</text>
<text transform="translate(367.58 382.00) scale(0.963 1)" font-size="5.23" font-family="Liberation Sans" font-weight="normal" fill="#3a3a3a" >0.28</text>
<rect x="460" y="346.9" width="40.80000000000001" height="44.10000000000002" fill="#fff" stroke="#b4b4b4" stroke-width="0.6"/>
<path d="M476.01 350.26L479.88 350.26 M476.44 351.52L479.45 351.52 M476.01 353.14L479.88 353.14 M477.95 350.26L477.95 353.14 M476.66 351.52L476.66 353.14 M481.13 350.62L484.57 350.62 M482.85 350.08L482.85 350.62 M481.99 350.62L481.13 353.32 M481.99 351.88L484.36 351.88 M484.36 351.88L484.14 353.32 M482.85 351.88L482.42 353.32" stroke="#3a3a3a" stroke-width="0.65" fill="none" stroke-linecap="square"/>
<path d="M462.80 356.78L466.37 356.78 M462.80 356.78L462.80 360.02 M466.37 356.78L466.37 360.02 M462.80 360.02L466.37 360.02 M463.59 357.86L465.58 357.86 M463.59 358.94L465.58 358.94 M464.58 357.32L464.58 359.48 M467.86 356.78L467.86 360.02 M467.26 357.68L468.65 357.68 M469.25 356.96L470.83 356.96 M469.25 358.04L470.83 358.04 M469.25 359.12L470.83 359.12 M470.04 356.96L470.04 360.02 M467.26 359.12L468.65 358.76 M471.93 356.96L475.10 356.96 M473.52 356.96L473.52 360.02 M471.93 357.86L475.10 357.86 M473.52 357.86L471.93 359.84 M473.52 357.86L475.10 359.84" stroke="#3a3a3a" stroke-width="0.6" fill="none" stroke-linecap="square"/>
<text transform="translate(482.66 360.20) scale(0.904 1)" font-size="5.23" font-family="Liberation Sans" font-weight="normal" fill="#3a3a3a" >0.8155</text>
<text transform="translate(462.22 367.15) scale(0.903 1)" font-size="5.23" font-family="Liberation Sans" font-weight="normal" fill="#3a3a3a" >Pp</text>
<text transform="translate(482.59 367.15) scale(0.968 1)" font-size="5.23" font-family="Liberation Sans" font-weight="normal" fill="#3a3a3a" >2.03</text>
<text transform="translate(462.22 374.10) scale(0.906 1)" font-size="5.23" font-family="Liberation Sans" font-weight="normal" fill="#3a3a3a" >Ppk</text>
<text transform="translate(482.46 374.10) scale(0.982 1)" font-size="5.23" font-family="Liberation Sans" font-weight="normal" fill="#3a3a3a" >1.68</text>
<text transform="translate(462.41 381.05) scale(0.745 1)" font-size="5.23" font-family="Liberation Sans" font-weight="normal" fill="#3a3a3a" >Cpm</text>
<text transform="translate(483.09 380.05) scale(1.597 1)" font-size="2.61" font-family="Liberation Sans" font-weight="normal" fill="#3a3a3a" >*</text>
<text transform="translate(462.24 388.00) scale(0.858 1)" font-size="5.23" font-family="Liberation Sans" font-weight="normal" fill="#3a3a3a" >PPM</text>
<text transform="translate(482.65 388.00) scale(0.963 1)" font-size="5.23" font-family="Liberation Sans" font-weight="normal" fill="#3a3a3a" >0.23</text>
<rect x="389" y="346.9" width="67.10000000000002" height="23.772899999999993" fill="#fff" stroke="#b8b8b8" stroke-width="0.6"/>
<line x1="389" y1="354.7516" x2="456.1" y2="354.7516" stroke="#c0c0c0" stroke-width="0.6"/>
<path d="M418.20 349.57L421.80 349.57 M420.00 348.94L420.00 349.57 M419.10 349.57L418.20 352.72 M419.10 351.04L421.57 351.04 M421.57 351.04L421.35 352.72 M420.00 351.04L419.55 352.72 M423.30 349.15L426.90 349.15 M425.10 349.15L425.10 352.72 M423.30 350.20L426.90 350.20 M425.10 350.20L423.30 352.51 M425.10 350.20L426.90 352.51" stroke="#333" stroke-width="0.7" fill="none" stroke-linecap="square"/>
<line x1="412.7" y1="361.5" x2="443.4" y2="361.5" stroke="#666" stroke-width="0.65"/>
<line x1="412.7" y1="360.2" x2="412.7" y2="362.8" stroke="#444" stroke-width="0.75"/>
<line x1="443.4" y1="360.2" x2="443.4" y2="362.8" stroke="#444" stroke-width="0.75"/>
<line x1="428" y1="360.2" x2="428" y2="362.8" stroke="#444" stroke-width="0.75"/>
<rect x="389" y="371.3999" width="67.10000000000002" height="23.26400000000001" fill="#fff" stroke="#b8b8b8" stroke-width="0.6"/>
<line x1="389" y1="378.888" x2="456.1" y2="378.888" stroke="#c0c0c0" stroke-width="0.6"/>
<path d="M417.98 373.25L422.03 373.25 M417.98 373.25L417.98 377.03 M422.03 373.25L422.03 377.03 M417.98 377.03L422.03 377.03 M418.88 374.51L421.12 374.51 M418.88 375.77L421.12 375.77 M420.00 373.88L420.00 376.40 M423.08 373.25L423.08 377.03 M423.08 373.25L424.65 373.25 M423.08 375.14L424.65 375.14 M423.08 377.03L424.65 377.03 M425.33 373.25L427.13 373.25 M425.33 373.25L425.33 377.03 M427.13 373.25L427.13 377.03 M425.33 375.14L427.13 375.14 M425.33 377.03L427.13 377.03" stroke="#333" stroke-width="0.7" fill="none" stroke-linecap="square"/>
<line x1="412.7" y1="387.0" x2="443.4" y2="387.0" stroke="#666" stroke-width="0.65"/>
<line x1="412.7" y1="385.7" x2="412.7" y2="388.3" stroke="#444" stroke-width="0.75"/>
<line x1="443.4" y1="385.7" x2="443.4" y2="388.3" stroke="#444" stroke-width="0.75"/>
<line x1="428" y1="385.7" x2="428" y2="388.3" stroke="#444" stroke-width="0.75"/>
<rect x="389" y="395.46360000000004" width="67.10000000000002" height="24.13639999999998" fill="#fff" stroke="#b8b8b8" stroke-width="0.6"/>
<line x1="389" y1="403.0244" x2="456.1" y2="403.0244" stroke="#c0c0c0" stroke-width="0.6"/>
<path d="M417.98 397.35L417.98 401.13 M417.98 397.35L419.55 397.35 M417.98 399.24L419.55 399.24 M417.98 401.13L419.55 401.13 M420.23 397.35L422.03 397.35 M420.23 397.35L420.23 401.13 M422.03 397.35L422.03 401.13 M420.23 399.24L422.03 399.24 M420.23 401.13L422.03 401.13 M423.08 397.56L427.13 397.56 M423.53 399.03L426.68 399.03 M423.08 400.92L427.13 400.92 M425.10 397.56L425.10 400.92 M423.75 399.03L423.75 400.92" stroke="#333" stroke-width="0.7" fill="none" stroke-linecap="square"/>
<line x1="392.3" y1="410.7" x2="453.6" y2="410.7" stroke="#666" stroke-width="0.65"/>
<line x1="392.3" y1="409.4" x2="392.3" y2="412.0" stroke="#444" stroke-width="0.75"/>
<line x1="453.6" y1="409.4" x2="453.6" y2="412.0" stroke="#444" stroke-width="0.75"/>
<path d="M581.63 334.35L587.60 334.35 M581.63 334.35L581.63 340.65 M587.60 334.35L587.60 340.65 M581.63 340.65L587.60 340.65 M582.96 336.45L586.27 336.45 M582.96 338.55L586.27 338.55 M584.62 335.40L584.62 339.60 M589.16 334.35L589.16 340.65 M589.16 334.35L591.49 334.35 M589.16 337.50L591.49 337.50 M589.16 340.65L591.49 340.65 M592.48 334.35L595.13 334.35 M592.48 334.35L592.48 340.65 M595.13 334.35L595.13 340.65 M592.48 337.50L595.13 337.50 M592.48 340.65L595.13 340.65 M597.03 334.70L602.34 334.70 M599.68 334.70L599.68 340.65 M597.03 336.45L602.34 336.45 M599.68 336.45L597.03 340.30 M599.68 336.45L602.34 340.30" stroke="#474747" stroke-width="0.75" fill="none" stroke-linecap="square"/>
<rect x="513.7" y="345.1" width="40.799999999999955" height="38.299999999999955" fill="#fff" stroke="#b4b4b4" stroke-width="0.6"/>
<path d="M529.72 348.28L529.72 351.52 M529.72 348.28L531.22 348.28 M529.72 349.90L531.22 349.90 M529.72 351.52L531.22 351.52 M531.87 348.28L533.59 348.28 M531.87 348.28L531.87 351.52 M533.59 348.28L533.59 351.52 M531.87 349.90L533.59 349.90 M531.87 351.52L533.59 351.52 M534.83 348.46L538.27 348.46 M536.55 348.46L536.55 351.52 M534.83 349.36L538.27 349.36 M536.55 349.36L534.83 351.34 M536.55 349.36L538.27 351.34" stroke="#3a3a3a" stroke-width="0.65" fill="none" stroke-linecap="square"/>
<path d="M516.70 355.42L519.87 355.42 M518.28 354.88L518.28 355.42 M517.49 355.42L516.70 358.12 M517.49 356.68L519.67 356.68 M519.67 356.68L519.47 358.12 M518.28 356.68L517.89 358.12 M520.97 355.06L524.54 355.06 M521.36 356.32L524.14 356.32 M520.97 357.94L524.54 357.94 M522.75 355.06L522.75 357.94 M521.56 356.32L521.56 357.94 M525.43 355.06L529.00 355.06 M525.83 356.32L528.61 356.32 M525.43 357.94L529.00 357.94 M527.22 355.06L527.22 357.94 M526.03 356.32L526.03 357.94" stroke="#3a3a3a" stroke-width="0.6" fill="none" stroke-linecap="square"/>
<text transform="translate(536.36 358.30) scale(0.904 1)" font-size="5.23" font-family="Liberation Sans" font-weight="normal" fill="#3a3a3a" >0.9895</text>
<text transform="translate(516.08 365.60) scale(0.839 1)" font-size="5.23" font-family="Liberation Sans" font-weight="normal" fill="#3a3a3a" >Cp</text>
<text transform="translate(536.79 364.60) scale(1.597 1)" font-size="2.61" font-family="Liberation Sans" font-weight="normal" fill="#3a3a3a" >*</text>
<text transform="translate(516.07 372.90) scale(0.862 1)" font-size="5.23" font-family="Liberation Sans" font-weight="normal" fill="#3a3a3a" >Cpk</text>
<text transform="translate(536.30 372.90) scale(0.963 1)" font-size="5.23" font-family="Liberation Sans" font-weight="normal" fill="#3a3a3a" >2.94</text>
<text transform="translate(515.94 380.20) scale(0.858 1)" font-size="5.23" font-family="Liberation Sans" font-weight="normal" fill="#3a3a3a" >PPM</text>
<text transform="translate(536.35 380.20) scale(0.961 1)" font-size="5.23" font-family="Liberation Sans" font-weight="normal" fill="#3a3a3a" >0.00</text>
<rect x="629.8" y="345.1" width="40.80000000000007" height="42.599999999999966" fill="#fff" stroke="#b4b4b4" stroke-width="0.6"/>
<path d="M645.82 348.28L649.69 348.28 M645.82 348.28L645.82 351.52 M649.69 348.28L649.69 351.52 M645.82 351.52L649.69 351.52 M646.68 349.36L648.83 349.36 M646.68 350.44L648.83 350.44 M647.75 348.82L647.75 350.98 M650.72 348.46L654.59 348.46 M651.14 349.72L654.15 349.72 M650.72 351.34L654.59 351.34 M652.65 348.46L652.65 351.34 M651.36 349.72L651.36 351.34" stroke="#3a3a3a" stroke-width="0.65" fill="none" stroke-linecap="square"/>
<path d="M632.60 354.98L636.17 354.98 M632.60 354.98L632.60 358.22 M636.17 354.98L636.17 358.22 M632.60 358.22L636.17 358.22 M633.39 356.06L635.38 356.06 M633.39 357.14L635.38 357.14 M634.38 355.52L634.38 357.68 M637.26 355.52L640.44 355.52 M638.85 354.98L638.85 355.52 M638.06 355.52L637.26 358.22 M638.06 356.78L640.24 356.78 M640.24 356.78L640.04 358.22 M638.85 356.78L638.45 358.22 M641.53 354.98L645.10 354.98 M641.53 354.98L641.53 358.22 M645.10 354.98L645.10 358.22 M641.53 358.22L645.10 358.22 M642.32 356.06L644.31 356.06 M642.32 357.14L644.31 357.14 M643.32 355.52L643.32 357.68" stroke="#3a3a3a" stroke-width="0.6" fill="none" stroke-linecap="square"/>
<text transform="translate(652.46 358.40) scale(0.903 1)" font-size="5.23" font-family="Liberation Sans" font-weight="normal" fill="#3a3a3a" >0.9810</text>
<text transform="translate(632.02 365.35) scale(0.903 1)" font-size="5.23" font-family="Liberation Sans" font-weight="normal" fill="#3a3a3a" >Pp</text>
<text transform="translate(652.89 364.35) scale(1.597 1)" font-size="2.61" font-family="Liberation Sans" font-weight="normal" fill="#3a3a3a" >*</text>
<text transform="translate(632.02 372.30) scale(0.906 1)" font-size="5.23" font-family="Liberation Sans" font-weight="normal" fill="#3a3a3a" >Ppk</text>
<text transform="translate(652.39 372.30) scale(0.968 1)" font-size="5.23" font-family="Liberation Sans" font-weight="normal" fill="#3a3a3a" >2.96</text>
<text transform="translate(632.20 379.25) scale(0.745 1)" font-size="5.23" font-family="Liberation Sans" font-weight="normal" fill="#3a3a3a" >Cpm</text>
<text transform="translate(652.89 378.25) scale(1.597 1)" font-size="2.61" font-family="Liberation Sans" font-weight="normal" fill="#3a3a3a" >*</text>
<text transform="translate(632.04 386.20) scale(0.858 1)" font-size="5.23" font-family="Liberation Sans" font-weight="normal" fill="#3a3a3a" >PPM</text>
<text transform="translate(652.45 386.20) scale(0.961 1)" font-size="5.23" font-family="Liberation Sans" font-weight="normal" fill="#3a3a3a" >0.00</text>
<rect x="558.3" y="345.1" width="67.70000000000005" height="24.165300000000002" fill="#fff" stroke="#b8b8b8" stroke-width="0.6"/>
<line x1="558.3" y1="353.0812" x2="626" y2="353.0812" stroke="#c0c0c0" stroke-width="0.6"/>
<path d="M587.80 347.83L591.40 347.83 M589.60 347.20L589.60 347.83 M588.70 347.83L587.80 350.98 M588.70 349.30L591.17 349.30 M591.17 349.30L590.95 350.98 M589.60 349.30L589.15 350.98 M592.67 347.20L596.72 347.20 M592.67 347.20L592.67 350.98 M596.72 347.20L596.72 350.98 M592.67 350.98L596.72 350.98 M593.57 348.46L595.82 348.46 M593.57 349.72L595.82 349.72 M594.70 347.83L594.70 350.35" stroke="#333" stroke-width="0.7" fill="none" stroke-linecap="square"/>
<line x1="591.5" y1="360.4" x2="622.1" y2="360.4" stroke="#666" stroke-width="0.65"/>
<line x1="591.5" y1="359.09999999999997" x2="591.5" y2="361.7" stroke="#444" stroke-width="0.75"/>
<line x1="622.1" y1="359.09999999999997" x2="622.1" y2="361.7" stroke="#444" stroke-width="0.75"/>
<line x1="606.8" y1="359.09999999999997" x2="606.8" y2="361.7" stroke="#444" stroke-width="0.75"/>
<rect x="558.3" y="370.0043" width="67.70000000000005" height="23.648000000000025" fill="#fff" stroke="#b8b8b8" stroke-width="0.6"/>
<line x1="558.3" y1="377.616" x2="626" y2="377.616" stroke="#c0c0c0" stroke-width="0.6"/>
<path d="M587.80 372.55L591.40 372.55 M589.60 371.92L589.60 372.55 M588.70 372.55L587.80 375.70 M588.70 374.02L591.17 374.02 M591.17 374.02L590.95 375.70 M589.60 374.02L589.15 375.70 M592.67 371.92L592.67 375.70 M592.67 371.92L594.25 371.92 M592.67 373.81L594.25 373.81 M592.67 375.70L594.25 375.70 M594.92 371.92L596.72 371.92 M594.92 371.92L594.92 375.70 M596.72 371.92L596.72 375.70 M594.92 373.81L596.72 373.81 M594.92 375.70L596.72 375.70" stroke="#333" stroke-width="0.7" fill="none" stroke-linecap="square"/>
<line x1="585.5" y1="386.0" x2="594.5" y2="386.0" stroke="#555" stroke-width="0.65" stroke-dasharray="2 3"/>
<line x1="594.5" y1="386.0" x2="622.1" y2="386.0" stroke="#666" stroke-width="0.65"/>
<line x1="594.5" y1="384.7" x2="594.5" y2="387.3" stroke="#444" stroke-width="0.75"/>
<line x1="622.1" y1="384.7" x2="622.1" y2="387.3" stroke="#444" stroke-width="0.75"/>
<line x1="607.2" y1="384.7" x2="607.2" y2="387.3" stroke="#444" stroke-width="0.75"/>
<rect x="558.3" y="394.4652" width="67.70000000000005" height="24.53480000000002" fill="#fff" stroke="#b8b8b8" stroke-width="0.6"/>
<line x1="558.3" y1="402.1508" x2="626" y2="402.1508" stroke="#c0c0c0" stroke-width="0.6"/>
<line x1="562.5" y1="410.5" x2="622" y2="410.5" stroke="#666" stroke-width="0.65"/>
<line x1="562.5" y1="409.2" x2="562.5" y2="411.8" stroke="#444" stroke-width="0.75"/>
<line x1="622" y1="409.2" x2="622" y2="411.8" stroke="#444" stroke-width="0.75"/>
<path d="M625.8 401.5 V390.3 H629" fill="none" stroke="#555" stroke-width="0.8" stroke-dasharray="2.2 1.2"/>
<line x1="629.8" y1="390.6" x2="660" y2="390.6" stroke="#aaa" stroke-width="0.6" stroke-dasharray="2 2"/>
<text transform="translate(492.00 413.40) scale(1.116 1)" font-size="17.30" font-family="Liberation Sans" font-weight="normal" fill="#98d18e" opacity="0.9" stroke="#98d18e" stroke-width="0.2">www.cntronics.com</text>
</svg></body></html>
